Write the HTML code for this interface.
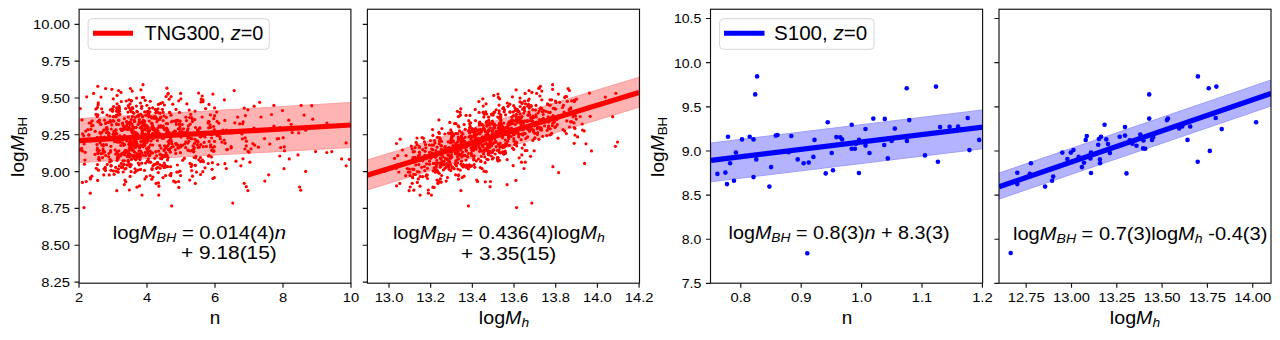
<!DOCTYPE html>
<html><head><meta charset="utf-8"><style>html,body{margin:0;padding:0;background:#fff;width:1280px;height:340px;overflow:hidden}</style></head>
<body><svg width="1280" height="340" viewBox="0 0 1280 340" style="display:block"><rect x="0" y="0" width="1280" height="340" fill="#fff"/><defs><clipPath id="c1"><rect x="79.1" y="9.24" width="271.80" height="273.96"/></clipPath><clipPath id="c2"><rect x="367.4" y="9.24" width="272.10" height="273.96"/></clipPath><clipPath id="c3"><rect x="710.5" y="9.24" width="272.10" height="273.96"/></clipPath><clipPath id="c4"><rect x="999.0" y="9.24" width="272.00" height="273.96"/></clipPath></defs><g clip-path="url(#c1)"><polygon points="79,118.6 351,102.5 351,147.5 79,162.6" fill="#ffb3b3" stroke="#ff9d9d" stroke-width="1"/></g><g clip-path="url(#c1)" fill="#ff0000"><circle cx="97.8" cy="153.4" r="1.6"/><circle cx="159.5" cy="119.5" r="1.6"/><circle cx="119.0" cy="106.4" r="1.6"/><circle cx="213.4" cy="151.2" r="1.6"/><circle cx="97.3" cy="150.2" r="1.6"/><circle cx="166.9" cy="88.2" r="1.6"/><circle cx="178.2" cy="172.0" r="1.6"/><circle cx="137.1" cy="138.6" r="1.6"/><circle cx="150.7" cy="162.2" r="1.6"/><circle cx="143.3" cy="146.6" r="1.6"/><circle cx="117.0" cy="115.0" r="1.6"/><circle cx="129.5" cy="141.9" r="1.6"/><circle cx="83.7" cy="135.8" r="1.6"/><circle cx="178.6" cy="181.5" r="1.6"/><circle cx="104.2" cy="137.0" r="1.6"/><circle cx="128.9" cy="128.4" r="1.6"/><circle cx="101.0" cy="97.1" r="1.6"/><circle cx="196.7" cy="133.6" r="1.6"/><circle cx="152.1" cy="123.6" r="1.6"/><circle cx="154.6" cy="116.3" r="1.6"/><circle cx="157.8" cy="163.7" r="1.6"/><circle cx="190.4" cy="151.0" r="1.6"/><circle cx="175.4" cy="131.4" r="1.6"/><circle cx="158.8" cy="195.1" r="1.6"/><circle cx="134.6" cy="152.2" r="1.6"/><circle cx="147.1" cy="127.9" r="1.6"/><circle cx="341.6" cy="158.9" r="1.6"/><circle cx="157.2" cy="133.3" r="1.6"/><circle cx="156.6" cy="110.8" r="1.6"/><circle cx="231.9" cy="133.0" r="1.6"/><circle cx="111.8" cy="124.9" r="1.6"/><circle cx="101.0" cy="124.6" r="1.6"/><circle cx="196.5" cy="172.1" r="1.6"/><circle cx="254.7" cy="145.2" r="1.6"/><circle cx="107.8" cy="132.2" r="1.6"/><circle cx="95.0" cy="154.4" r="1.6"/><circle cx="81.6" cy="148.4" r="1.6"/><circle cx="160.1" cy="168.2" r="1.6"/><circle cx="117.6" cy="110.2" r="1.6"/><circle cx="148.0" cy="153.8" r="1.6"/><circle cx="171.3" cy="147.5" r="1.6"/><circle cx="90.9" cy="122.9" r="1.6"/><circle cx="202.8" cy="171.7" r="1.6"/><circle cx="129.2" cy="127.4" r="1.6"/><circle cx="147.0" cy="134.7" r="1.6"/><circle cx="134.6" cy="121.2" r="1.6"/><circle cx="135.8" cy="159.8" r="1.6"/><circle cx="136.3" cy="142.8" r="1.6"/><circle cx="84.1" cy="144.0" r="1.6"/><circle cx="130.4" cy="88.5" r="1.6"/><circle cx="116.6" cy="123.8" r="1.6"/><circle cx="134.4" cy="121.5" r="1.6"/><circle cx="124.4" cy="160.8" r="1.6"/><circle cx="136.4" cy="106.1" r="1.6"/><circle cx="176.3" cy="143.7" r="1.6"/><circle cx="298.0" cy="154.9" r="1.6"/><circle cx="118.8" cy="120.5" r="1.6"/><circle cx="200.7" cy="136.9" r="1.6"/><circle cx="167.9" cy="94.1" r="1.6"/><circle cx="111.3" cy="129.0" r="1.6"/><circle cx="86.7" cy="96.8" r="1.6"/><circle cx="203.3" cy="146.7" r="1.6"/><circle cx="116.7" cy="124.5" r="1.6"/><circle cx="110.9" cy="170.3" r="1.6"/><circle cx="176.0" cy="109.4" r="1.6"/><circle cx="175.8" cy="153.4" r="1.6"/><circle cx="242.4" cy="138.8" r="1.6"/><circle cx="151.1" cy="140.8" r="1.6"/><circle cx="142.4" cy="97.5" r="1.6"/><circle cx="131.2" cy="164.8" r="1.6"/><circle cx="124.3" cy="184.6" r="1.6"/><circle cx="169.5" cy="149.2" r="1.6"/><circle cx="271.5" cy="114.5" r="1.6"/><circle cx="99.9" cy="132.7" r="1.6"/><circle cx="136.0" cy="155.8" r="1.6"/><circle cx="141.4" cy="127.8" r="1.6"/><circle cx="112.0" cy="108.8" r="1.6"/><circle cx="152.8" cy="128.2" r="1.6"/><circle cx="288.8" cy="120.2" r="1.6"/><circle cx="132.1" cy="132.3" r="1.6"/><circle cx="175.4" cy="182.2" r="1.6"/><circle cx="245.4" cy="115.6" r="1.6"/><circle cx="130.3" cy="143.4" r="1.6"/><circle cx="226.7" cy="149.6" r="1.6"/><circle cx="183.9" cy="132.6" r="1.6"/><circle cx="180.2" cy="129.4" r="1.6"/><circle cx="115.2" cy="149.9" r="1.6"/><circle cx="131.2" cy="129.8" r="1.6"/><circle cx="109.1" cy="133.6" r="1.6"/><circle cx="249.0" cy="152.2" r="1.6"/><circle cx="194.2" cy="157.5" r="1.6"/><circle cx="97.9" cy="121.6" r="1.6"/><circle cx="153.9" cy="164.6" r="1.6"/><circle cx="121.8" cy="130.0" r="1.6"/><circle cx="196.3" cy="141.2" r="1.6"/><circle cx="159.8" cy="127.0" r="1.6"/><circle cx="251.0" cy="148.8" r="1.6"/><circle cx="171.7" cy="205.9" r="1.6"/><circle cx="109.2" cy="174.9" r="1.6"/><circle cx="139.2" cy="164.8" r="1.6"/><circle cx="158.3" cy="172.6" r="1.6"/><circle cx="247.9" cy="109.8" r="1.6"/><circle cx="146.6" cy="148.5" r="1.6"/><circle cx="127.2" cy="156.5" r="1.6"/><circle cx="139.7" cy="123.2" r="1.6"/><circle cx="118.2" cy="154.3" r="1.6"/><circle cx="115.7" cy="154.2" r="1.6"/><circle cx="132.8" cy="133.4" r="1.6"/><circle cx="123.9" cy="164.6" r="1.6"/><circle cx="160.1" cy="154.4" r="1.6"/><circle cx="244.2" cy="108.1" r="1.6"/><circle cx="280.1" cy="127.7" r="1.6"/><circle cx="117.9" cy="155.0" r="1.6"/><circle cx="152.7" cy="107.9" r="1.6"/><circle cx="167.3" cy="155.7" r="1.6"/><circle cx="122.2" cy="129.0" r="1.6"/><circle cx="163.1" cy="120.6" r="1.6"/><circle cx="125.9" cy="168.4" r="1.6"/><circle cx="137.4" cy="111.8" r="1.6"/><circle cx="132.7" cy="112.1" r="1.6"/><circle cx="195.3" cy="183.4" r="1.6"/><circle cx="128.2" cy="128.1" r="1.6"/><circle cx="160.1" cy="113.1" r="1.6"/><circle cx="152.0" cy="168.6" r="1.6"/><circle cx="136.6" cy="98.1" r="1.6"/><circle cx="234.8" cy="122.8" r="1.6"/><circle cx="145.6" cy="163.1" r="1.6"/><circle cx="134.1" cy="146.0" r="1.6"/><circle cx="171.1" cy="173.3" r="1.6"/><circle cx="148.0" cy="139.2" r="1.6"/><circle cx="164.1" cy="115.8" r="1.6"/><circle cx="117.1" cy="95.4" r="1.6"/><circle cx="126.8" cy="141.0" r="1.6"/><circle cx="192.5" cy="176.2" r="1.6"/><circle cx="138.1" cy="124.5" r="1.6"/><circle cx="205.0" cy="136.9" r="1.6"/><circle cx="117.5" cy="136.9" r="1.6"/><circle cx="126.0" cy="151.0" r="1.6"/><circle cx="206.3" cy="146.4" r="1.6"/><circle cx="131.2" cy="111.7" r="1.6"/><circle cx="106.7" cy="127.3" r="1.6"/><circle cx="129.9" cy="143.3" r="1.6"/><circle cx="182.2" cy="124.5" r="1.6"/><circle cx="130.0" cy="122.0" r="1.6"/><circle cx="148.7" cy="147.2" r="1.6"/><circle cx="203.2" cy="135.6" r="1.6"/><circle cx="180.6" cy="175.5" r="1.6"/><circle cx="197.5" cy="129.9" r="1.6"/><circle cx="289.3" cy="158.9" r="1.6"/><circle cx="142.2" cy="115.8" r="1.6"/><circle cx="208.4" cy="132.8" r="1.6"/><circle cx="153.8" cy="127.8" r="1.6"/><circle cx="126.3" cy="129.0" r="1.6"/><circle cx="123.8" cy="145.3" r="1.6"/><circle cx="133.8" cy="113.3" r="1.6"/><circle cx="121.3" cy="101.6" r="1.6"/><circle cx="193.1" cy="145.9" r="1.6"/><circle cx="157.6" cy="167.3" r="1.6"/><circle cx="105.2" cy="167.3" r="1.6"/><circle cx="210.5" cy="146.7" r="1.6"/><circle cx="166.3" cy="123.6" r="1.6"/><circle cx="147.7" cy="111.3" r="1.6"/><circle cx="113.6" cy="106.5" r="1.6"/><circle cx="157.5" cy="162.4" r="1.6"/><circle cx="229.8" cy="131.9" r="1.6"/><circle cx="161.2" cy="135.8" r="1.6"/><circle cx="163.5" cy="128.1" r="1.6"/><circle cx="165.9" cy="152.8" r="1.6"/><circle cx="153.4" cy="128.6" r="1.6"/><circle cx="171.1" cy="96.6" r="1.6"/><circle cx="122.3" cy="153.4" r="1.6"/><circle cx="128.5" cy="154.0" r="1.6"/><circle cx="89.2" cy="123.0" r="1.6"/><circle cx="203.2" cy="161.6" r="1.6"/><circle cx="90.3" cy="193.2" r="1.6"/><circle cx="118.6" cy="124.5" r="1.6"/><circle cx="156.4" cy="118.3" r="1.6"/><circle cx="148.7" cy="133.8" r="1.6"/><circle cx="234.2" cy="90.6" r="1.6"/><circle cx="121.1" cy="154.0" r="1.6"/><circle cx="107.0" cy="128.7" r="1.6"/><circle cx="122.6" cy="123.2" r="1.6"/><circle cx="156.7" cy="130.4" r="1.6"/><circle cx="142.5" cy="131.7" r="1.6"/><circle cx="149.3" cy="108.4" r="1.6"/><circle cx="176.8" cy="172.1" r="1.6"/><circle cx="140.6" cy="169.4" r="1.6"/><circle cx="175.7" cy="143.5" r="1.6"/><circle cx="85.8" cy="131.1" r="1.6"/><circle cx="148.4" cy="134.0" r="1.6"/><circle cx="246.3" cy="145.9" r="1.6"/><circle cx="243.1" cy="121.9" r="1.6"/><circle cx="163.6" cy="138.3" r="1.6"/><circle cx="298.7" cy="132.9" r="1.6"/><circle cx="128.0" cy="129.6" r="1.6"/><circle cx="144.8" cy="145.3" r="1.6"/><circle cx="156.3" cy="168.5" r="1.6"/><circle cx="162.3" cy="165.7" r="1.6"/><circle cx="194.8" cy="119.6" r="1.6"/><circle cx="148.7" cy="131.4" r="1.6"/><circle cx="98.3" cy="102.9" r="1.6"/><circle cx="170.9" cy="140.1" r="1.6"/><circle cx="122.1" cy="130.2" r="1.6"/><circle cx="209.1" cy="155.6" r="1.6"/><circle cx="122.6" cy="143.1" r="1.6"/><circle cx="144.9" cy="178.9" r="1.6"/><circle cx="126.6" cy="121.6" r="1.6"/><circle cx="131.7" cy="143.3" r="1.6"/><circle cx="169.8" cy="112.6" r="1.6"/><circle cx="128.1" cy="160.7" r="1.6"/><circle cx="108.8" cy="153.5" r="1.6"/><circle cx="147.3" cy="161.2" r="1.6"/><circle cx="191.7" cy="170.6" r="1.6"/><circle cx="98.1" cy="105.1" r="1.6"/><circle cx="138.6" cy="146.0" r="1.6"/><circle cx="112.9" cy="120.7" r="1.6"/><circle cx="80.3" cy="108.5" r="1.6"/><circle cx="144.0" cy="126.1" r="1.6"/><circle cx="138.2" cy="170.0" r="1.6"/><circle cx="214.6" cy="107.9" r="1.6"/><circle cx="93.6" cy="93.4" r="1.6"/><circle cx="165.1" cy="165.4" r="1.6"/><circle cx="191.9" cy="138.7" r="1.6"/><circle cx="144.6" cy="111.9" r="1.6"/><circle cx="151.7" cy="123.2" r="1.6"/><circle cx="125.0" cy="180.1" r="1.6"/><circle cx="117.3" cy="142.2" r="1.6"/><circle cx="99.5" cy="120.1" r="1.6"/><circle cx="226.3" cy="168.5" r="1.6"/><circle cx="84.0" cy="207.6" r="1.6"/><circle cx="129.4" cy="156.9" r="1.6"/><circle cx="168.0" cy="157.8" r="1.6"/><circle cx="154.2" cy="118.3" r="1.6"/><circle cx="155.3" cy="116.8" r="1.6"/><circle cx="141.7" cy="122.4" r="1.6"/><circle cx="129.5" cy="163.8" r="1.6"/><circle cx="191.4" cy="133.7" r="1.6"/><circle cx="110.6" cy="137.6" r="1.6"/><circle cx="132.2" cy="107.7" r="1.6"/><circle cx="192.2" cy="119.1" r="1.6"/><circle cx="132.9" cy="155.9" r="1.6"/><circle cx="278.6" cy="138.5" r="1.6"/><circle cx="123.1" cy="139.8" r="1.6"/><circle cx="149.3" cy="130.6" r="1.6"/><circle cx="161.5" cy="155.2" r="1.6"/><circle cx="155.9" cy="151.6" r="1.6"/><circle cx="189.3" cy="137.3" r="1.6"/><circle cx="97.4" cy="148.1" r="1.6"/><circle cx="162.4" cy="109.3" r="1.6"/><circle cx="189.7" cy="180.1" r="1.6"/><circle cx="110.7" cy="150.7" r="1.6"/><circle cx="148.3" cy="148.2" r="1.6"/><circle cx="158.6" cy="151.1" r="1.6"/><circle cx="136.4" cy="136.2" r="1.6"/><circle cx="156.1" cy="132.2" r="1.6"/><circle cx="174.6" cy="131.0" r="1.6"/><circle cx="178.0" cy="147.7" r="1.6"/><circle cx="246.4" cy="141.2" r="1.6"/><circle cx="166.8" cy="128.4" r="1.6"/><circle cx="346.2" cy="165.8" r="1.6"/><circle cx="166.0" cy="147.8" r="1.6"/><circle cx="130.2" cy="124.5" r="1.6"/><circle cx="118.1" cy="158.4" r="1.6"/><circle cx="100.8" cy="133.5" r="1.6"/><circle cx="143.1" cy="140.0" r="1.6"/><circle cx="105.5" cy="170.5" r="1.6"/><circle cx="170.6" cy="166.7" r="1.6"/><circle cx="177.4" cy="165.0" r="1.6"/><circle cx="179.9" cy="127.0" r="1.6"/><circle cx="140.9" cy="89.8" r="1.6"/><circle cx="158.1" cy="136.9" r="1.6"/><circle cx="127.6" cy="155.4" r="1.6"/><circle cx="225.0" cy="143.2" r="1.6"/><circle cx="95.9" cy="109.1" r="1.6"/><circle cx="133.0" cy="128.6" r="1.6"/><circle cx="147.8" cy="111.8" r="1.6"/><circle cx="127.0" cy="164.9" r="1.6"/><circle cx="201.0" cy="101.9" r="1.6"/><circle cx="152.7" cy="133.3" r="1.6"/><circle cx="138.7" cy="116.2" r="1.6"/><circle cx="97.9" cy="114.9" r="1.6"/><circle cx="137.2" cy="137.0" r="1.6"/><circle cx="153.0" cy="177.0" r="1.6"/><circle cx="131.5" cy="145.8" r="1.6"/><circle cx="106.3" cy="132.6" r="1.6"/><circle cx="154.7" cy="158.3" r="1.6"/><circle cx="132.7" cy="126.3" r="1.6"/><circle cx="211.4" cy="156.9" r="1.6"/><circle cx="171.0" cy="115.2" r="1.6"/><circle cx="164.4" cy="105.0" r="1.6"/><circle cx="244.9" cy="149.0" r="1.6"/><circle cx="188.0" cy="150.0" r="1.6"/><circle cx="131.6" cy="101.0" r="1.6"/><circle cx="151.9" cy="127.2" r="1.6"/><circle cx="117.3" cy="110.7" r="1.6"/><circle cx="113.7" cy="116.7" r="1.6"/><circle cx="118.6" cy="90.5" r="1.6"/><circle cx="98.9" cy="150.5" r="1.6"/><circle cx="116.6" cy="107.9" r="1.6"/><circle cx="124.5" cy="144.4" r="1.6"/><circle cx="166.7" cy="132.1" r="1.6"/><circle cx="113.4" cy="170.9" r="1.6"/><circle cx="99.0" cy="150.6" r="1.6"/><circle cx="135.0" cy="132.4" r="1.6"/><circle cx="115.8" cy="130.2" r="1.6"/><circle cx="174.2" cy="133.8" r="1.6"/><circle cx="128.0" cy="160.9" r="1.6"/><circle cx="161.1" cy="117.1" r="1.6"/><circle cx="121.0" cy="155.4" r="1.6"/><circle cx="160.4" cy="117.7" r="1.6"/><circle cx="211.4" cy="132.3" r="1.6"/><circle cx="140.8" cy="151.3" r="1.6"/><circle cx="160.6" cy="158.4" r="1.6"/><circle cx="153.4" cy="129.8" r="1.6"/><circle cx="108.7" cy="134.9" r="1.6"/><circle cx="87.9" cy="129.7" r="1.6"/><circle cx="210.6" cy="134.5" r="1.6"/><circle cx="142.6" cy="145.0" r="1.6"/><circle cx="165.1" cy="167.2" r="1.6"/><circle cx="144.2" cy="120.8" r="1.6"/><circle cx="198.6" cy="93.1" r="1.6"/><circle cx="120.3" cy="140.8" r="1.6"/><circle cx="157.0" cy="134.2" r="1.6"/><circle cx="161.0" cy="148.1" r="1.6"/><circle cx="182.0" cy="135.0" r="1.6"/><circle cx="90.4" cy="178.9" r="1.6"/><circle cx="135.9" cy="143.7" r="1.6"/><circle cx="147.7" cy="130.9" r="1.6"/><circle cx="152.6" cy="152.9" r="1.6"/><circle cx="123.9" cy="164.6" r="1.6"/><circle cx="148.4" cy="131.6" r="1.6"/><circle cx="178.4" cy="120.6" r="1.6"/><circle cx="181.7" cy="133.9" r="1.6"/><circle cx="117.1" cy="160.4" r="1.6"/><circle cx="152.6" cy="125.6" r="1.6"/><circle cx="131.1" cy="130.6" r="1.6"/><circle cx="145.7" cy="139.7" r="1.6"/><circle cx="146.4" cy="176.7" r="1.6"/><circle cx="279.8" cy="156.0" r="1.6"/><circle cx="82.4" cy="182.4" r="1.6"/><circle cx="277.3" cy="138.8" r="1.6"/><circle cx="101.7" cy="108.8" r="1.6"/><circle cx="100.9" cy="136.9" r="1.6"/><circle cx="124.7" cy="136.0" r="1.6"/><circle cx="131.5" cy="159.4" r="1.6"/><circle cx="198.1" cy="142.1" r="1.6"/><circle cx="213.8" cy="118.6" r="1.6"/><circle cx="261.0" cy="117.0" r="1.6"/><circle cx="143.5" cy="155.3" r="1.6"/><circle cx="86.2" cy="181.5" r="1.6"/><circle cx="165.6" cy="175.6" r="1.6"/><circle cx="231.1" cy="146.6" r="1.6"/><circle cx="98.9" cy="157.4" r="1.6"/><circle cx="199.4" cy="147.0" r="1.6"/><circle cx="79.7" cy="150.2" r="1.6"/><circle cx="187.8" cy="143.1" r="1.6"/><circle cx="151.4" cy="116.9" r="1.6"/><circle cx="226.4" cy="130.2" r="1.6"/><circle cx="214.3" cy="177.6" r="1.6"/><circle cx="110.1" cy="159.6" r="1.6"/><circle cx="159.0" cy="125.8" r="1.6"/><circle cx="117.1" cy="103.8" r="1.6"/><circle cx="159.7" cy="134.9" r="1.6"/><circle cx="107.9" cy="122.4" r="1.6"/><circle cx="139.0" cy="151.1" r="1.6"/><circle cx="134.1" cy="139.4" r="1.6"/><circle cx="82.5" cy="150.9" r="1.6"/><circle cx="154.1" cy="134.1" r="1.6"/><circle cx="224.4" cy="99.8" r="1.6"/><circle cx="111.0" cy="165.9" r="1.6"/><circle cx="264.8" cy="181.1" r="1.6"/><circle cx="158.5" cy="182.9" r="1.6"/><circle cx="128.3" cy="117.0" r="1.6"/><circle cx="304.1" cy="115.1" r="1.6"/><circle cx="149.7" cy="155.6" r="1.6"/><circle cx="152.4" cy="128.5" r="1.6"/><circle cx="145.7" cy="115.4" r="1.6"/><circle cx="198.8" cy="159.8" r="1.6"/><circle cx="116.8" cy="152.0" r="1.6"/><circle cx="123.5" cy="129.5" r="1.6"/><circle cx="144.5" cy="141.9" r="1.6"/><circle cx="109.9" cy="116.1" r="1.6"/><circle cx="210.4" cy="127.4" r="1.6"/><circle cx="158.9" cy="186.2" r="1.6"/><circle cx="170.4" cy="152.2" r="1.6"/><circle cx="217.1" cy="121.4" r="1.6"/><circle cx="157.8" cy="128.1" r="1.6"/><circle cx="131.2" cy="100.6" r="1.6"/><circle cx="160.6" cy="103.4" r="1.6"/><circle cx="149.2" cy="121.0" r="1.6"/><circle cx="130.4" cy="122.6" r="1.6"/><circle cx="130.0" cy="103.9" r="1.6"/><circle cx="132.8" cy="108.4" r="1.6"/><circle cx="190.9" cy="138.4" r="1.6"/><circle cx="114.0" cy="132.4" r="1.6"/><circle cx="349.3" cy="159.3" r="1.6"/><circle cx="113.3" cy="136.8" r="1.6"/><circle cx="141.7" cy="153.1" r="1.6"/><circle cx="110.3" cy="122.2" r="1.6"/><circle cx="135.0" cy="144.3" r="1.6"/><circle cx="130.1" cy="166.7" r="1.6"/><circle cx="164.6" cy="129.6" r="1.6"/><circle cx="217.1" cy="135.4" r="1.6"/><circle cx="125.8" cy="181.8" r="1.6"/><circle cx="190.0" cy="163.4" r="1.6"/><circle cx="145.2" cy="100.3" r="1.6"/><circle cx="140.8" cy="141.5" r="1.6"/><circle cx="123.1" cy="125.6" r="1.6"/><circle cx="221.9" cy="142.1" r="1.6"/><circle cx="133.8" cy="142.2" r="1.6"/><circle cx="180.6" cy="146.9" r="1.6"/><circle cx="95.2" cy="131.3" r="1.6"/><circle cx="171.4" cy="121.8" r="1.6"/><circle cx="126.5" cy="150.5" r="1.6"/><circle cx="159.2" cy="133.9" r="1.6"/><circle cx="168.7" cy="132.6" r="1.6"/><circle cx="116.4" cy="111.1" r="1.6"/><circle cx="159.7" cy="145.6" r="1.6"/><circle cx="214.4" cy="146.7" r="1.6"/><circle cx="129.7" cy="145.9" r="1.6"/><circle cx="153.1" cy="138.7" r="1.6"/><circle cx="114.1" cy="131.3" r="1.6"/><circle cx="118.4" cy="169.1" r="1.6"/><circle cx="148.2" cy="113.9" r="1.6"/><circle cx="163.8" cy="155.6" r="1.6"/><circle cx="169.2" cy="99.2" r="1.6"/><circle cx="212.4" cy="162.7" r="1.6"/><circle cx="168.2" cy="141.5" r="1.6"/><circle cx="146.3" cy="125.8" r="1.6"/><circle cx="155.3" cy="134.2" r="1.6"/><circle cx="178.2" cy="128.9" r="1.6"/><circle cx="208.2" cy="163.5" r="1.6"/><circle cx="177.0" cy="120.4" r="1.6"/><circle cx="148.2" cy="127.4" r="1.6"/><circle cx="114.5" cy="135.1" r="1.6"/><circle cx="204.1" cy="142.4" r="1.6"/><circle cx="144.9" cy="124.7" r="1.6"/><circle cx="145.5" cy="143.1" r="1.6"/><circle cx="210.1" cy="124.8" r="1.6"/><circle cx="123.2" cy="172.0" r="1.6"/><circle cx="216.7" cy="112.1" r="1.6"/><circle cx="128.8" cy="151.4" r="1.6"/><circle cx="107.2" cy="164.4" r="1.6"/><circle cx="157.5" cy="120.0" r="1.6"/><circle cx="195.3" cy="165.3" r="1.6"/><circle cx="134.0" cy="138.1" r="1.6"/><circle cx="208.5" cy="121.5" r="1.6"/><circle cx="141.6" cy="128.6" r="1.6"/><circle cx="193.9" cy="149.1" r="1.6"/><circle cx="97.6" cy="180.4" r="1.6"/><circle cx="142.4" cy="137.5" r="1.6"/><circle cx="111.3" cy="160.9" r="1.6"/><circle cx="191.7" cy="117.5" r="1.6"/><circle cx="149.9" cy="111.9" r="1.6"/><circle cx="179.6" cy="123.6" r="1.6"/><circle cx="114.7" cy="141.7" r="1.6"/><circle cx="184.9" cy="132.5" r="1.6"/><circle cx="346.1" cy="142.9" r="1.6"/><circle cx="106.0" cy="129.0" r="1.6"/><circle cx="135.7" cy="145.4" r="1.6"/><circle cx="211.7" cy="150.3" r="1.6"/><circle cx="209.0" cy="104.4" r="1.6"/><circle cx="200.0" cy="136.3" r="1.6"/><circle cx="116.9" cy="133.6" r="1.6"/><circle cx="160.8" cy="125.7" r="1.6"/><circle cx="109.8" cy="137.4" r="1.6"/><circle cx="131.3" cy="119.5" r="1.6"/><circle cx="155.9" cy="117.9" r="1.6"/><circle cx="125.1" cy="129.0" r="1.6"/><circle cx="135.5" cy="127.5" r="1.6"/><circle cx="131.1" cy="171.6" r="1.6"/><circle cx="103.1" cy="150.7" r="1.6"/><circle cx="111.9" cy="89.3" r="1.6"/><circle cx="193.4" cy="133.7" r="1.6"/><circle cx="82.6" cy="133.9" r="1.6"/><circle cx="311.7" cy="105.7" r="1.6"/><circle cx="237.7" cy="117.1" r="1.6"/><circle cx="326.9" cy="123.1" r="1.6"/><circle cx="185.6" cy="147.6" r="1.6"/><circle cx="82.0" cy="119.9" r="1.6"/><circle cx="102.9" cy="153.2" r="1.6"/><circle cx="136.1" cy="141.3" r="1.6"/><circle cx="117.9" cy="139.1" r="1.6"/><circle cx="110.9" cy="146.3" r="1.6"/><circle cx="240.9" cy="165.8" r="1.6"/><circle cx="231.8" cy="130.3" r="1.6"/><circle cx="197.4" cy="140.9" r="1.6"/><circle cx="124.5" cy="135.6" r="1.6"/><circle cx="214.2" cy="133.6" r="1.6"/><circle cx="195.0" cy="139.3" r="1.6"/><circle cx="140.8" cy="144.9" r="1.6"/><circle cx="124.8" cy="169.1" r="1.6"/><circle cx="126.2" cy="101.0" r="1.6"/><circle cx="142.9" cy="122.8" r="1.6"/><circle cx="212.9" cy="94.1" r="1.6"/><circle cx="101.8" cy="145.0" r="1.6"/><circle cx="136.2" cy="127.3" r="1.6"/><circle cx="134.2" cy="155.5" r="1.6"/><circle cx="246.3" cy="186.7" r="1.6"/><circle cx="128.4" cy="161.4" r="1.6"/><circle cx="171.5" cy="141.7" r="1.6"/><circle cx="136.8" cy="111.4" r="1.6"/><circle cx="166.3" cy="117.4" r="1.6"/><circle cx="197.6" cy="132.9" r="1.6"/><circle cx="192.4" cy="121.4" r="1.6"/><circle cx="214.4" cy="129.5" r="1.6"/><circle cx="140.7" cy="114.0" r="1.6"/><circle cx="138.7" cy="154.0" r="1.6"/><circle cx="108.7" cy="156.8" r="1.6"/><circle cx="128.1" cy="165.0" r="1.6"/><circle cx="110.4" cy="109.8" r="1.6"/><circle cx="186.9" cy="103.9" r="1.6"/><circle cx="104.6" cy="151.9" r="1.6"/><circle cx="129.1" cy="144.5" r="1.6"/><circle cx="189.6" cy="117.5" r="1.6"/><circle cx="194.6" cy="143.3" r="1.6"/><circle cx="300.8" cy="190.2" r="1.6"/><circle cx="144.2" cy="125.3" r="1.6"/><circle cx="97.2" cy="137.4" r="1.6"/><circle cx="181.0" cy="137.1" r="1.6"/><circle cx="131.5" cy="129.7" r="1.6"/><circle cx="188.4" cy="125.8" r="1.6"/><circle cx="85.2" cy="152.3" r="1.6"/><circle cx="112.3" cy="138.1" r="1.6"/><circle cx="180.9" cy="145.2" r="1.6"/><circle cx="166.3" cy="146.9" r="1.6"/><circle cx="161.2" cy="158.1" r="1.6"/><circle cx="155.7" cy="112.6" r="1.6"/><circle cx="178.3" cy="148.2" r="1.6"/><circle cx="119.3" cy="165.8" r="1.6"/><circle cx="109.1" cy="136.1" r="1.6"/><circle cx="130.1" cy="176.4" r="1.6"/><circle cx="155.0" cy="130.6" r="1.6"/><circle cx="118.7" cy="120.2" r="1.6"/><circle cx="117.3" cy="157.7" r="1.6"/><circle cx="152.1" cy="169.6" r="1.6"/><circle cx="137.1" cy="157.9" r="1.6"/><circle cx="138.4" cy="156.4" r="1.6"/><circle cx="232.8" cy="203.1" r="1.6"/><circle cx="274.0" cy="126.2" r="1.6"/><circle cx="110.1" cy="120.7" r="1.6"/><circle cx="163.3" cy="126.1" r="1.6"/><circle cx="124.4" cy="137.8" r="1.6"/><circle cx="134.4" cy="120.4" r="1.6"/><circle cx="88.8" cy="135.0" r="1.6"/><circle cx="103.5" cy="144.5" r="1.6"/><circle cx="100.0" cy="140.8" r="1.6"/><circle cx="101.7" cy="139.6" r="1.6"/><circle cx="167.9" cy="145.5" r="1.6"/><circle cx="105.2" cy="168.4" r="1.6"/><circle cx="217.2" cy="135.0" r="1.6"/><circle cx="190.2" cy="124.2" r="1.6"/><circle cx="137.0" cy="187.2" r="1.6"/><circle cx="164.1" cy="167.5" r="1.6"/><circle cx="258.4" cy="147.2" r="1.6"/><circle cx="112.5" cy="111.3" r="1.6"/><circle cx="156.9" cy="121.7" r="1.6"/><circle cx="148.1" cy="152.7" r="1.6"/><circle cx="139.8" cy="146.8" r="1.6"/><circle cx="142.0" cy="195.1" r="1.6"/><circle cx="98.3" cy="138.3" r="1.6"/><circle cx="170.8" cy="175.7" r="1.6"/><circle cx="116.6" cy="115.0" r="1.6"/><circle cx="139.2" cy="156.8" r="1.6"/><circle cx="243.0" cy="158.8" r="1.6"/><circle cx="134.1" cy="127.7" r="1.6"/><circle cx="132.4" cy="150.3" r="1.6"/><circle cx="219.7" cy="136.5" r="1.6"/><circle cx="157.4" cy="140.6" r="1.6"/><circle cx="148.2" cy="160.9" r="1.6"/><circle cx="121.9" cy="130.5" r="1.6"/><circle cx="177.8" cy="145.1" r="1.6"/><circle cx="143.0" cy="84.7" r="1.6"/><circle cx="158.4" cy="104.4" r="1.6"/><circle cx="130.2" cy="149.4" r="1.6"/><circle cx="103.3" cy="146.1" r="1.6"/><circle cx="202.1" cy="117.0" r="1.6"/><circle cx="172.8" cy="104.2" r="1.6"/><circle cx="254.2" cy="106.2" r="1.6"/><circle cx="132.3" cy="145.6" r="1.6"/><circle cx="146.2" cy="112.1" r="1.6"/><circle cx="128.0" cy="112.1" r="1.6"/><circle cx="131.7" cy="147.9" r="1.6"/><circle cx="144.1" cy="143.6" r="1.6"/><circle cx="114.1" cy="174.3" r="1.6"/><circle cx="118.8" cy="150.8" r="1.6"/><circle cx="146.9" cy="125.9" r="1.6"/><circle cx="214.0" cy="150.9" r="1.6"/><circle cx="154.9" cy="129.7" r="1.6"/><circle cx="192.9" cy="134.1" r="1.6"/><circle cx="102.5" cy="157.7" r="1.6"/><circle cx="127.4" cy="124.2" r="1.6"/><circle cx="259.7" cy="102.3" r="1.6"/><circle cx="99.5" cy="159.9" r="1.6"/><circle cx="98.5" cy="170.2" r="1.6"/><circle cx="157.7" cy="112.4" r="1.6"/><circle cx="139.5" cy="185.9" r="1.6"/><circle cx="128.3" cy="105.7" r="1.6"/><circle cx="166.5" cy="128.1" r="1.6"/><circle cx="177.7" cy="135.4" r="1.6"/><circle cx="129.0" cy="99.8" r="1.6"/><circle cx="159.7" cy="133.7" r="1.6"/><circle cx="149.0" cy="155.4" r="1.6"/><circle cx="200.6" cy="174.5" r="1.6"/><circle cx="97.5" cy="164.6" r="1.6"/><circle cx="118.7" cy="157.3" r="1.6"/><circle cx="159.9" cy="164.8" r="1.6"/><circle cx="98.5" cy="151.5" r="1.6"/><circle cx="205.6" cy="108.6" r="1.6"/><circle cx="284.5" cy="150.8" r="1.6"/><circle cx="141.5" cy="108.3" r="1.6"/><circle cx="182.7" cy="160.3" r="1.6"/><circle cx="126.5" cy="126.1" r="1.6"/><circle cx="269.8" cy="144.0" r="1.6"/><circle cx="116.2" cy="171.2" r="1.6"/><circle cx="90.9" cy="129.3" r="1.6"/><circle cx="101.9" cy="132.5" r="1.6"/><circle cx="155.9" cy="152.0" r="1.6"/><circle cx="105.5" cy="123.4" r="1.6"/><circle cx="292.2" cy="132.6" r="1.6"/><circle cx="171.1" cy="135.9" r="1.6"/><circle cx="160.4" cy="154.4" r="1.6"/><circle cx="178.7" cy="100.8" r="1.6"/><circle cx="144.4" cy="136.9" r="1.6"/><circle cx="234.3" cy="131.4" r="1.6"/><circle cx="178.8" cy="187.4" r="1.6"/><circle cx="132.4" cy="116.6" r="1.6"/><circle cx="146.7" cy="139.1" r="1.6"/><circle cx="113.8" cy="121.2" r="1.6"/><circle cx="145.3" cy="152.4" r="1.6"/><circle cx="143.5" cy="122.1" r="1.6"/><circle cx="102.6" cy="112.3" r="1.6"/><circle cx="241.9" cy="134.0" r="1.6"/><circle cx="129.3" cy="148.3" r="1.6"/><circle cx="149.8" cy="154.9" r="1.6"/><circle cx="107.0" cy="115.0" r="1.6"/><circle cx="147.1" cy="142.1" r="1.6"/><circle cx="175.3" cy="149.9" r="1.6"/><circle cx="97.0" cy="144.7" r="1.6"/><circle cx="305.7" cy="130.2" r="1.6"/><circle cx="113.5" cy="116.6" r="1.6"/><circle cx="119.9" cy="114.3" r="1.6"/><circle cx="195.7" cy="157.8" r="1.6"/><circle cx="135.2" cy="117.4" r="1.6"/><circle cx="214.5" cy="141.4" r="1.6"/><circle cx="121.0" cy="92.4" r="1.6"/><circle cx="133.1" cy="145.5" r="1.6"/><circle cx="179.9" cy="171.2" r="1.6"/><circle cx="200.6" cy="161.6" r="1.6"/><circle cx="208.1" cy="122.9" r="1.6"/><circle cx="146.0" cy="135.1" r="1.6"/><circle cx="163.0" cy="177.6" r="1.6"/><circle cx="139.4" cy="119.7" r="1.6"/><circle cx="167.6" cy="123.7" r="1.6"/><circle cx="121.5" cy="167.6" r="1.6"/><circle cx="203.0" cy="99.8" r="1.6"/><circle cx="169.3" cy="150.3" r="1.6"/><circle cx="118.4" cy="112.3" r="1.6"/><circle cx="133.4" cy="149.8" r="1.6"/><circle cx="130.7" cy="164.9" r="1.6"/><circle cx="240.5" cy="130.8" r="1.6"/><circle cx="147.2" cy="139.7" r="1.6"/><circle cx="173.7" cy="181.2" r="1.6"/><circle cx="227.5" cy="149.6" r="1.6"/><circle cx="141.1" cy="146.1" r="1.6"/><circle cx="268.7" cy="174.8" r="1.6"/><circle cx="138.1" cy="156.3" r="1.6"/><circle cx="92.2" cy="120.8" r="1.6"/><circle cx="105.7" cy="155.5" r="1.6"/><circle cx="179.3" cy="124.4" r="1.6"/><circle cx="139.9" cy="159.6" r="1.6"/><circle cx="212.9" cy="178.5" r="1.6"/><circle cx="161.7" cy="158.8" r="1.6"/><circle cx="176.0" cy="122.1" r="1.6"/><circle cx="135.6" cy="135.8" r="1.6"/><circle cx="155.3" cy="109.4" r="1.6"/><circle cx="165.3" cy="166.5" r="1.6"/><circle cx="142.3" cy="125.6" r="1.6"/><circle cx="158.0" cy="108.8" r="1.6"/><circle cx="211.9" cy="134.6" r="1.6"/><circle cx="217.9" cy="164.5" r="1.6"/><circle cx="132.2" cy="156.1" r="1.6"/><circle cx="107.0" cy="129.3" r="1.6"/><circle cx="210.4" cy="114.8" r="1.6"/><circle cx="148.3" cy="158.8" r="1.6"/><circle cx="284.0" cy="168.7" r="1.6"/><circle cx="186.5" cy="120.6" r="1.6"/><circle cx="135.8" cy="147.3" r="1.6"/><circle cx="198.9" cy="131.7" r="1.6"/><circle cx="148.7" cy="116.8" r="1.6"/><circle cx="167.5" cy="159.9" r="1.6"/><circle cx="198.2" cy="147.4" r="1.6"/><circle cx="149.5" cy="130.4" r="1.6"/><circle cx="249.9" cy="162.2" r="1.6"/><circle cx="136.3" cy="144.7" r="1.6"/><circle cx="142.7" cy="134.2" r="1.6"/><circle cx="175.2" cy="120.9" r="1.6"/><circle cx="140.3" cy="127.7" r="1.6"/><circle cx="172.0" cy="144.0" r="1.6"/><circle cx="150.2" cy="151.1" r="1.6"/><circle cx="181.8" cy="131.6" r="1.6"/><circle cx="201.2" cy="99.1" r="1.6"/><circle cx="163.1" cy="112.2" r="1.6"/><circle cx="242.7" cy="123.8" r="1.6"/><circle cx="190.7" cy="114.3" r="1.6"/><circle cx="208.4" cy="156.1" r="1.6"/><circle cx="91.7" cy="125.9" r="1.6"/><circle cx="93.0" cy="125.4" r="1.6"/><circle cx="168.1" cy="149.3" r="1.6"/><circle cx="143.6" cy="97.3" r="1.6"/><circle cx="209.0" cy="121.6" r="1.6"/><circle cx="134.7" cy="172.5" r="1.6"/><circle cx="185.9" cy="117.2" r="1.6"/><circle cx="115.9" cy="129.9" r="1.6"/><circle cx="173.3" cy="146.6" r="1.6"/><circle cx="247.9" cy="190.6" r="1.6"/><circle cx="211.4" cy="133.7" r="1.6"/><circle cx="132.8" cy="130.2" r="1.6"/><circle cx="149.0" cy="115.6" r="1.6"/><circle cx="151.8" cy="118.1" r="1.6"/><circle cx="132.8" cy="128.6" r="1.6"/><circle cx="149.4" cy="162.2" r="1.6"/><circle cx="273.9" cy="105.4" r="1.6"/><circle cx="203.3" cy="161.7" r="1.6"/><circle cx="139.6" cy="148.1" r="1.6"/><circle cx="169.4" cy="140.6" r="1.6"/><circle cx="282.5" cy="110.6" r="1.6"/><circle cx="140.1" cy="136.4" r="1.6"/><circle cx="200.4" cy="157.6" r="1.6"/><circle cx="194.2" cy="147.6" r="1.6"/><circle cx="224.9" cy="163.7" r="1.6"/><circle cx="103.7" cy="130.2" r="1.6"/><circle cx="224.8" cy="120.4" r="1.6"/><circle cx="299.6" cy="187.0" r="1.6"/><circle cx="118.2" cy="172.2" r="1.6"/><circle cx="169.5" cy="112.4" r="1.6"/><circle cx="98.7" cy="159.3" r="1.6"/><circle cx="180.3" cy="121.0" r="1.6"/><circle cx="167.5" cy="130.0" r="1.6"/><circle cx="185.8" cy="141.8" r="1.6"/><circle cx="205.0" cy="167.8" r="1.6"/><circle cx="132.0" cy="124.0" r="1.6"/><circle cx="99.9" cy="122.9" r="1.6"/><circle cx="187.9" cy="138.2" r="1.6"/><circle cx="88.9" cy="134.9" r="1.6"/><circle cx="122.1" cy="166.8" r="1.6"/><circle cx="119.3" cy="109.2" r="1.6"/><circle cx="192.5" cy="150.0" r="1.6"/><circle cx="159.7" cy="113.0" r="1.6"/><circle cx="202.5" cy="160.2" r="1.6"/><circle cx="168.1" cy="134.9" r="1.6"/><circle cx="208.6" cy="127.8" r="1.6"/><circle cx="188.0" cy="128.8" r="1.6"/><circle cx="212.1" cy="169.3" r="1.6"/><circle cx="130.2" cy="154.3" r="1.6"/><circle cx="139.2" cy="146.8" r="1.6"/><circle cx="169.9" cy="175.0" r="1.6"/><circle cx="150.6" cy="144.9" r="1.6"/><circle cx="195.8" cy="156.4" r="1.6"/><circle cx="184.7" cy="144.0" r="1.6"/><circle cx="143.4" cy="140.3" r="1.6"/><circle cx="110.5" cy="152.0" r="1.6"/><circle cx="197.4" cy="144.8" r="1.6"/><circle cx="166.0" cy="154.7" r="1.6"/><circle cx="132.7" cy="142.0" r="1.6"/><circle cx="97.4" cy="107.6" r="1.6"/><circle cx="84.4" cy="164.2" r="1.6"/><circle cx="128.4" cy="161.5" r="1.6"/><circle cx="140.9" cy="122.4" r="1.6"/><circle cx="115.6" cy="133.4" r="1.6"/><circle cx="97.8" cy="86.3" r="1.6"/><circle cx="125.7" cy="108.6" r="1.6"/><circle cx="140.6" cy="156.9" r="1.6"/><circle cx="96.0" cy="114.4" r="1.6"/><circle cx="123.0" cy="160.9" r="1.6"/><circle cx="150.2" cy="175.5" r="1.6"/><circle cx="203.0" cy="101.6" r="1.6"/><circle cx="199.7" cy="128.2" r="1.6"/><circle cx="146.9" cy="105.3" r="1.6"/><circle cx="120.8" cy="145.5" r="1.6"/><circle cx="140.5" cy="103.0" r="1.6"/><circle cx="167.5" cy="130.8" r="1.6"/><circle cx="136.4" cy="133.2" r="1.6"/><circle cx="158.0" cy="131.1" r="1.6"/><circle cx="193.7" cy="151.8" r="1.6"/><circle cx="179.4" cy="133.4" r="1.6"/><circle cx="202.2" cy="96.0" r="1.6"/><circle cx="100.1" cy="142.8" r="1.6"/><circle cx="136.9" cy="153.7" r="1.6"/><circle cx="101.2" cy="153.7" r="1.6"/><circle cx="160.9" cy="127.0" r="1.6"/><circle cx="170.3" cy="137.5" r="1.6"/><circle cx="119.3" cy="107.8" r="1.6"/><circle cx="104.5" cy="120.2" r="1.6"/><circle cx="156.6" cy="155.8" r="1.6"/><circle cx="119.0" cy="114.8" r="1.6"/><circle cx="113.1" cy="134.2" r="1.6"/><circle cx="142.5" cy="117.0" r="1.6"/><circle cx="252.9" cy="143.6" r="1.6"/><circle cx="144.5" cy="124.3" r="1.6"/><circle cx="168.2" cy="93.3" r="1.6"/><circle cx="134.3" cy="158.0" r="1.6"/><circle cx="139.1" cy="122.2" r="1.6"/><circle cx="128.4" cy="122.9" r="1.6"/><circle cx="119.5" cy="111.3" r="1.6"/><circle cx="189.2" cy="110.1" r="1.6"/><circle cx="137.1" cy="143.8" r="1.6"/><circle cx="131.9" cy="142.1" r="1.6"/><circle cx="326.8" cy="152.5" r="1.6"/><circle cx="213.6" cy="126.5" r="1.6"/><circle cx="129.0" cy="107.5" r="1.6"/><circle cx="151.3" cy="152.8" r="1.6"/><circle cx="162.6" cy="102.5" r="1.6"/><circle cx="113.3" cy="98.8" r="1.6"/><circle cx="142.2" cy="130.3" r="1.6"/><circle cx="130.4" cy="109.7" r="1.6"/><circle cx="188.2" cy="150.3" r="1.6"/><circle cx="103.0" cy="149.0" r="1.6"/><circle cx="331.8" cy="151.6" r="1.6"/><circle cx="129.0" cy="144.2" r="1.6"/><circle cx="136.0" cy="171.2" r="1.6"/><circle cx="96.3" cy="168.3" r="1.6"/><circle cx="218.8" cy="123.2" r="1.6"/><circle cx="210.7" cy="144.8" r="1.6"/><circle cx="98.2" cy="153.0" r="1.6"/><circle cx="148.0" cy="140.4" r="1.6"/><circle cx="133.3" cy="136.1" r="1.6"/><circle cx="180.6" cy="146.5" r="1.6"/><circle cx="137.6" cy="134.2" r="1.6"/><circle cx="254.0" cy="128.0" r="1.6"/><circle cx="124.2" cy="127.1" r="1.6"/><circle cx="187.4" cy="130.7" r="1.6"/><circle cx="122.4" cy="166.9" r="1.6"/><circle cx="180.9" cy="98.8" r="1.6"/><circle cx="141.9" cy="133.0" r="1.6"/><circle cx="156.1" cy="183.4" r="1.6"/><circle cx="164.0" cy="150.4" r="1.6"/><circle cx="172.6" cy="121.2" r="1.6"/><circle cx="103.7" cy="174.9" r="1.6"/><circle cx="110.5" cy="138.7" r="1.6"/><circle cx="315.6" cy="151.6" r="1.6"/><circle cx="125.2" cy="137.8" r="1.6"/><circle cx="136.2" cy="134.6" r="1.6"/><circle cx="119.8" cy="135.9" r="1.6"/><circle cx="164.2" cy="163.0" r="1.6"/><circle cx="291.2" cy="124.3" r="1.6"/><circle cx="143.2" cy="141.4" r="1.6"/><circle cx="138.3" cy="163.0" r="1.6"/><circle cx="144.6" cy="121.6" r="1.6"/><circle cx="90.4" cy="177.7" r="1.6"/><circle cx="105.6" cy="88.6" r="1.6"/><circle cx="109.7" cy="162.0" r="1.6"/><circle cx="138.5" cy="115.4" r="1.6"/><circle cx="305.7" cy="171.4" r="1.6"/><circle cx="121.3" cy="163.4" r="1.6"/><circle cx="153.0" cy="165.8" r="1.6"/><circle cx="126.0" cy="152.3" r="1.6"/><circle cx="97.2" cy="116.5" r="1.6"/><circle cx="214.6" cy="115.7" r="1.6"/><circle cx="129.3" cy="190.0" r="1.6"/><circle cx="127.1" cy="122.2" r="1.6"/><circle cx="188.9" cy="141.3" r="1.6"/><circle cx="120.6" cy="129.1" r="1.6"/><circle cx="119.8" cy="142.2" r="1.6"/><circle cx="264.6" cy="138.6" r="1.6"/><circle cx="116.8" cy="190.7" r="1.6"/><circle cx="211.6" cy="138.0" r="1.6"/><circle cx="145.0" cy="129.7" r="1.6"/><circle cx="155.5" cy="164.2" r="1.6"/><circle cx="144.5" cy="170.4" r="1.6"/><circle cx="135.0" cy="168.8" r="1.6"/><circle cx="244.2" cy="183.3" r="1.6"/><circle cx="248.1" cy="151.3" r="1.6"/><circle cx="124.4" cy="118.6" r="1.6"/><circle cx="180.4" cy="152.7" r="1.6"/><circle cx="125.3" cy="150.3" r="1.6"/><circle cx="141.8" cy="106.3" r="1.6"/><circle cx="104.0" cy="169.0" r="1.6"/><circle cx="165.0" cy="156.5" r="1.6"/><circle cx="166.1" cy="96.5" r="1.6"/><circle cx="195.1" cy="111.1" r="1.6"/><circle cx="184.1" cy="133.5" r="1.6"/><circle cx="141.7" cy="163.2" r="1.6"/><circle cx="115.7" cy="167.4" r="1.6"/><circle cx="91.8" cy="176.2" r="1.6"/><circle cx="163.2" cy="156.9" r="1.6"/><circle cx="236.0" cy="161.2" r="1.6"/><circle cx="147.7" cy="150.5" r="1.6"/><circle cx="176.5" cy="144.7" r="1.6"/><circle cx="231.2" cy="148.0" r="1.6"/><circle cx="212.7" cy="147.5" r="1.6"/><circle cx="183.5" cy="128.8" r="1.6"/><circle cx="151.8" cy="179.2" r="1.6"/><circle cx="128.6" cy="154.1" r="1.6"/><circle cx="195.2" cy="165.3" r="1.6"/><circle cx="145.5" cy="134.1" r="1.6"/><circle cx="172.9" cy="132.7" r="1.6"/><circle cx="124.5" cy="154.8" r="1.6"/><circle cx="280.7" cy="147.6" r="1.6"/><circle cx="124.2" cy="152.2" r="1.6"/><circle cx="182.5" cy="145.3" r="1.6"/><circle cx="220.3" cy="138.7" r="1.6"/><circle cx="113.0" cy="109.5" r="1.6"/><circle cx="199.9" cy="127.9" r="1.6"/><circle cx="164.5" cy="145.8" r="1.6"/><circle cx="170.5" cy="137.2" r="1.6"/><circle cx="123.5" cy="139.2" r="1.6"/><circle cx="144.6" cy="128.7" r="1.6"/><circle cx="119.9" cy="140.5" r="1.6"/><circle cx="149.7" cy="129.9" r="1.6"/><circle cx="179.5" cy="112.4" r="1.6"/><circle cx="179.6" cy="132.1" r="1.6"/><circle cx="180.6" cy="93.4" r="1.6"/><circle cx="130.4" cy="139.7" r="1.6"/><circle cx="140.0" cy="155.1" r="1.6"/><circle cx="191.7" cy="164.6" r="1.6"/><circle cx="301.2" cy="105.3" r="1.6"/><circle cx="116.2" cy="116.8" r="1.6"/><circle cx="145.7" cy="155.6" r="1.6"/><circle cx="139.1" cy="114.8" r="1.6"/><circle cx="284.3" cy="146.8" r="1.6"/><circle cx="84.9" cy="160.1" r="1.6"/><circle cx="239.7" cy="123.8" r="1.6"/><circle cx="184.4" cy="158.3" r="1.6"/><circle cx="143.2" cy="120.3" r="1.6"/><circle cx="167.6" cy="166.7" r="1.6"/><circle cx="137.4" cy="116.1" r="1.6"/><circle cx="169.0" cy="132.2" r="1.6"/><circle cx="132.2" cy="91.1" r="1.6"/><circle cx="245.1" cy="137.9" r="1.6"/><circle cx="152.8" cy="145.0" r="1.6"/><circle cx="193.8" cy="151.5" r="1.6"/><circle cx="162.2" cy="138.2" r="1.6"/><circle cx="134.8" cy="147.1" r="1.6"/><circle cx="283.2" cy="137.7" r="1.6"/><circle cx="121.9" cy="167.3" r="1.6"/><circle cx="223.0" cy="130.0" r="1.6"/><circle cx="312.7" cy="119.2" r="1.6"/><circle cx="200.8" cy="144.6" r="1.6"/><circle cx="176.3" cy="124.3" r="1.6"/><circle cx="164.4" cy="149.5" r="1.6"/><circle cx="224.2" cy="140.0" r="1.6"/><circle cx="150.3" cy="101.3" r="1.6"/><circle cx="195.5" cy="127.5" r="1.6"/><circle cx="191.2" cy="166.6" r="1.6"/><circle cx="209.2" cy="141.4" r="1.6"/><circle cx="148.4" cy="114.1" r="1.6"/><circle cx="169.2" cy="143.5" r="1.6"/><circle cx="111.2" cy="165.7" r="1.6"/><circle cx="106.4" cy="144.7" r="1.6"/></g><g clip-path="url(#c1)"><line x1="79" y1="140.6" x2="351" y2="125.0" stroke="#ff0000" stroke-width="5.2"/></g><g clip-path="url(#c2)"><polygon points="367,160.0 639,77.3 639,107.3 367,190.0" fill="#ffb3b3" stroke="#ff9d9d" stroke-width="1"/></g><g clip-path="url(#c2)" fill="#ff0000"><circle cx="505.2" cy="153.4" r="1.6"/><circle cx="539.3" cy="119.5" r="1.6"/><circle cx="531.1" cy="106.4" r="1.6"/><circle cx="451.8" cy="151.2" r="1.6"/><circle cx="466.1" cy="150.2" r="1.6"/><circle cx="538.9" cy="88.2" r="1.6"/><circle cx="398.8" cy="172.0" r="1.6"/><circle cx="534.4" cy="138.6" r="1.6"/><circle cx="525.3" cy="162.2" r="1.6"/><circle cx="473.5" cy="146.6" r="1.6"/><circle cx="460.5" cy="115.0" r="1.6"/><circle cx="465.3" cy="141.9" r="1.6"/><circle cx="452.7" cy="135.8" r="1.6"/><circle cx="477.6" cy="181.5" r="1.6"/><circle cx="472.7" cy="137.0" r="1.6"/><circle cx="483.6" cy="128.4" r="1.6"/><circle cx="605.3" cy="97.1" r="1.6"/><circle cx="524.5" cy="133.6" r="1.6"/><circle cx="499.4" cy="123.6" r="1.6"/><circle cx="590.2" cy="116.3" r="1.6"/><circle cx="455.1" cy="163.7" r="1.6"/><circle cx="449.6" cy="151.0" r="1.6"/><circle cx="513.2" cy="131.4" r="1.6"/><circle cx="420.1" cy="195.1" r="1.6"/><circle cx="419.5" cy="152.2" r="1.6"/><circle cx="490.3" cy="127.9" r="1.6"/><circle cx="478.4" cy="158.9" r="1.6"/><circle cx="551.6" cy="133.3" r="1.6"/><circle cx="499.2" cy="110.8" r="1.6"/><circle cx="487.4" cy="133.0" r="1.6"/><circle cx="479.3" cy="124.9" r="1.6"/><circle cx="464.1" cy="124.6" r="1.6"/><circle cx="408.3" cy="172.1" r="1.6"/><circle cx="431.8" cy="145.2" r="1.6"/><circle cx="510.0" cy="132.2" r="1.6"/><circle cx="442.0" cy="154.4" r="1.6"/><circle cx="459.4" cy="148.4" r="1.6"/><circle cx="396.3" cy="168.2" r="1.6"/><circle cx="515.5" cy="110.2" r="1.6"/><circle cx="436.1" cy="153.8" r="1.6"/><circle cx="464.5" cy="147.5" r="1.6"/><circle cx="536.9" cy="122.9" r="1.6"/><circle cx="486.3" cy="171.7" r="1.6"/><circle cx="554.9" cy="127.4" r="1.6"/><circle cx="513.6" cy="134.7" r="1.6"/><circle cx="532.6" cy="121.2" r="1.6"/><circle cx="447.5" cy="159.8" r="1.6"/><circle cx="476.1" cy="142.8" r="1.6"/><circle cx="492.6" cy="144.0" r="1.6"/><circle cx="539.1" cy="88.5" r="1.6"/><circle cx="469.6" cy="123.8" r="1.6"/><circle cx="511.5" cy="121.5" r="1.6"/><circle cx="422.8" cy="160.8" r="1.6"/><circle cx="483.2" cy="106.1" r="1.6"/><circle cx="455.7" cy="143.7" r="1.6"/><circle cx="441.5" cy="154.9" r="1.6"/><circle cx="520.1" cy="120.5" r="1.6"/><circle cx="475.0" cy="136.9" r="1.6"/><circle cx="558.4" cy="94.1" r="1.6"/><circle cx="509.9" cy="129.0" r="1.6"/><circle cx="512.4" cy="96.8" r="1.6"/><circle cx="496.2" cy="146.7" r="1.6"/><circle cx="493.5" cy="124.5" r="1.6"/><circle cx="436.2" cy="170.3" r="1.6"/><circle cx="475.2" cy="109.4" r="1.6"/><circle cx="455.5" cy="153.4" r="1.6"/><circle cx="484.5" cy="138.8" r="1.6"/><circle cx="439.5" cy="140.8" r="1.6"/><circle cx="564.7" cy="97.5" r="1.6"/><circle cx="455.8" cy="164.8" r="1.6"/><circle cx="507.1" cy="184.6" r="1.6"/><circle cx="457.6" cy="149.2" r="1.6"/><circle cx="543.2" cy="114.5" r="1.6"/><circle cx="502.9" cy="132.7" r="1.6"/><circle cx="449.5" cy="155.8" r="1.6"/><circle cx="540.0" cy="127.8" r="1.6"/><circle cx="570.7" cy="108.8" r="1.6"/><circle cx="541.3" cy="128.2" r="1.6"/><circle cx="511.8" cy="120.2" r="1.6"/><circle cx="438.9" cy="132.3" r="1.6"/><circle cx="441.2" cy="182.2" r="1.6"/><circle cx="553.2" cy="115.6" r="1.6"/><circle cx="486.4" cy="143.4" r="1.6"/><circle cx="432.6" cy="149.6" r="1.6"/><circle cx="537.7" cy="132.6" r="1.6"/><circle cx="513.8" cy="129.4" r="1.6"/><circle cx="493.8" cy="149.9" r="1.6"/><circle cx="478.6" cy="129.8" r="1.6"/><circle cx="492.3" cy="133.6" r="1.6"/><circle cx="451.8" cy="152.2" r="1.6"/><circle cx="413.2" cy="157.5" r="1.6"/><circle cx="539.3" cy="121.6" r="1.6"/><circle cx="474.2" cy="164.6" r="1.6"/><circle cx="482.2" cy="130.0" r="1.6"/><circle cx="463.9" cy="141.2" r="1.6"/><circle cx="520.7" cy="127.0" r="1.6"/><circle cx="412.1" cy="148.8" r="1.6"/><circle cx="468.4" cy="205.9" r="1.6"/><circle cx="426.6" cy="174.9" r="1.6"/><circle cx="442.4" cy="164.8" r="1.6"/><circle cx="558.6" cy="172.6" r="1.6"/><circle cx="504.5" cy="109.8" r="1.6"/><circle cx="485.5" cy="148.5" r="1.6"/><circle cx="481.3" cy="156.5" r="1.6"/><circle cx="552.9" cy="123.2" r="1.6"/><circle cx="459.6" cy="154.3" r="1.6"/><circle cx="503.8" cy="154.2" r="1.6"/><circle cx="495.6" cy="133.4" r="1.6"/><circle cx="463.3" cy="164.6" r="1.6"/><circle cx="488.3" cy="154.4" r="1.6"/><circle cx="529.3" cy="108.1" r="1.6"/><circle cx="540.2" cy="127.7" r="1.6"/><circle cx="451.4" cy="155.0" r="1.6"/><circle cx="570.7" cy="107.9" r="1.6"/><circle cx="397.8" cy="155.7" r="1.6"/><circle cx="522.7" cy="129.0" r="1.6"/><circle cx="530.3" cy="120.6" r="1.6"/><circle cx="434.3" cy="168.4" r="1.6"/><circle cx="485.7" cy="111.8" r="1.6"/><circle cx="529.0" cy="112.1" r="1.6"/><circle cx="399.8" cy="183.4" r="1.6"/><circle cx="511.4" cy="128.1" r="1.6"/><circle cx="523.8" cy="113.1" r="1.6"/><circle cx="482.0" cy="168.6" r="1.6"/><circle cx="520.0" cy="98.1" r="1.6"/><circle cx="470.7" cy="122.8" r="1.6"/><circle cx="437.3" cy="163.1" r="1.6"/><circle cx="466.0" cy="146.0" r="1.6"/><circle cx="439.2" cy="173.3" r="1.6"/><circle cx="471.0" cy="139.2" r="1.6"/><circle cx="575.5" cy="115.8" r="1.6"/><circle cx="493.8" cy="95.4" r="1.6"/><circle cx="472.2" cy="141.0" r="1.6"/><circle cx="464.1" cy="176.2" r="1.6"/><circle cx="557.3" cy="124.5" r="1.6"/><circle cx="482.7" cy="136.9" r="1.6"/><circle cx="577.6" cy="136.9" r="1.6"/><circle cx="483.8" cy="151.0" r="1.6"/><circle cx="476.2" cy="146.4" r="1.6"/><circle cx="542.5" cy="111.7" r="1.6"/><circle cx="520.4" cy="127.3" r="1.6"/><circle cx="505.8" cy="143.3" r="1.6"/><circle cx="489.5" cy="124.5" r="1.6"/><circle cx="554.4" cy="122.0" r="1.6"/><circle cx="479.2" cy="147.2" r="1.6"/><circle cx="546.8" cy="135.6" r="1.6"/><circle cx="410.0" cy="175.5" r="1.6"/><circle cx="480.1" cy="129.9" r="1.6"/><circle cx="492.4" cy="158.9" r="1.6"/><circle cx="558.2" cy="115.8" r="1.6"/><circle cx="469.6" cy="132.8" r="1.6"/><circle cx="527.6" cy="127.8" r="1.6"/><circle cx="499.3" cy="129.0" r="1.6"/><circle cx="509.4" cy="145.3" r="1.6"/><circle cx="499.2" cy="113.3" r="1.6"/><circle cx="574.4" cy="101.6" r="1.6"/><circle cx="453.2" cy="145.9" r="1.6"/><circle cx="474.8" cy="167.3" r="1.6"/><circle cx="446.3" cy="167.3" r="1.6"/><circle cx="419.2" cy="146.7" r="1.6"/><circle cx="454.6" cy="123.6" r="1.6"/><circle cx="545.6" cy="111.3" r="1.6"/><circle cx="520.2" cy="106.5" r="1.6"/><circle cx="442.1" cy="162.4" r="1.6"/><circle cx="508.7" cy="131.9" r="1.6"/><circle cx="490.2" cy="135.8" r="1.6"/><circle cx="494.4" cy="128.1" r="1.6"/><circle cx="505.5" cy="152.8" r="1.6"/><circle cx="472.0" cy="128.6" r="1.6"/><circle cx="565.3" cy="96.6" r="1.6"/><circle cx="488.4" cy="153.4" r="1.6"/><circle cx="495.2" cy="154.0" r="1.6"/><circle cx="511.4" cy="123.0" r="1.6"/><circle cx="442.8" cy="161.6" r="1.6"/><circle cx="428.4" cy="193.2" r="1.6"/><circle cx="488.8" cy="124.5" r="1.6"/><circle cx="532.2" cy="118.3" r="1.6"/><circle cx="515.2" cy="133.8" r="1.6"/><circle cx="529.0" cy="90.6" r="1.6"/><circle cx="434.8" cy="154.0" r="1.6"/><circle cx="540.4" cy="128.7" r="1.6"/><circle cx="520.8" cy="123.2" r="1.6"/><circle cx="547.2" cy="130.4" r="1.6"/><circle cx="485.4" cy="131.7" r="1.6"/><circle cx="554.3" cy="108.4" r="1.6"/><circle cx="410.1" cy="172.1" r="1.6"/><circle cx="413.9" cy="169.4" r="1.6"/><circle cx="396.5" cy="143.5" r="1.6"/><circle cx="468.6" cy="131.1" r="1.6"/><circle cx="463.0" cy="134.0" r="1.6"/><circle cx="441.3" cy="145.9" r="1.6"/><circle cx="509.0" cy="121.9" r="1.6"/><circle cx="423.5" cy="138.3" r="1.6"/><circle cx="499.2" cy="132.9" r="1.6"/><circle cx="432.5" cy="129.6" r="1.6"/><circle cx="502.8" cy="145.3" r="1.6"/><circle cx="407.3" cy="168.5" r="1.6"/><circle cx="464.0" cy="165.7" r="1.6"/><circle cx="556.8" cy="119.6" r="1.6"/><circle cx="481.5" cy="131.4" r="1.6"/><circle cx="522.1" cy="102.9" r="1.6"/><circle cx="505.3" cy="140.1" r="1.6"/><circle cx="505.4" cy="130.2" r="1.6"/><circle cx="450.5" cy="155.6" r="1.6"/><circle cx="500.2" cy="143.1" r="1.6"/><circle cx="418.3" cy="178.9" r="1.6"/><circle cx="526.8" cy="121.6" r="1.6"/><circle cx="574.2" cy="143.3" r="1.6"/><circle cx="549.6" cy="112.6" r="1.6"/><circle cx="419.7" cy="160.7" r="1.6"/><circle cx="468.5" cy="153.5" r="1.6"/><circle cx="461.6" cy="161.2" r="1.6"/><circle cx="450.8" cy="170.6" r="1.6"/><circle cx="499.1" cy="105.1" r="1.6"/><circle cx="516.7" cy="146.0" r="1.6"/><circle cx="468.8" cy="120.7" r="1.6"/><circle cx="541.1" cy="108.5" r="1.6"/><circle cx="531.7" cy="126.1" r="1.6"/><circle cx="443.4" cy="170.0" r="1.6"/><circle cx="524.6" cy="107.9" r="1.6"/><circle cx="536.7" cy="93.4" r="1.6"/><circle cx="447.1" cy="165.4" r="1.6"/><circle cx="494.6" cy="138.7" r="1.6"/><circle cx="513.3" cy="111.9" r="1.6"/><circle cx="511.5" cy="123.2" r="1.6"/><circle cx="437.0" cy="180.1" r="1.6"/><circle cx="495.9" cy="142.2" r="1.6"/><circle cx="511.7" cy="120.1" r="1.6"/><circle cx="524.0" cy="168.5" r="1.6"/><circle cx="516.6" cy="207.6" r="1.6"/><circle cx="461.9" cy="156.9" r="1.6"/><circle cx="519.2" cy="157.8" r="1.6"/><circle cx="543.4" cy="118.3" r="1.6"/><circle cx="548.2" cy="116.8" r="1.6"/><circle cx="449.8" cy="122.4" r="1.6"/><circle cx="426.5" cy="163.8" r="1.6"/><circle cx="496.6" cy="133.7" r="1.6"/><circle cx="461.5" cy="137.6" r="1.6"/><circle cx="503.5" cy="107.7" r="1.6"/><circle cx="576.3" cy="119.1" r="1.6"/><circle cx="474.2" cy="155.9" r="1.6"/><circle cx="462.2" cy="138.5" r="1.6"/><circle cx="491.4" cy="139.8" r="1.6"/><circle cx="501.5" cy="130.6" r="1.6"/><circle cx="436.1" cy="155.2" r="1.6"/><circle cx="483.9" cy="151.6" r="1.6"/><circle cx="437.4" cy="137.3" r="1.6"/><circle cx="512.5" cy="148.1" r="1.6"/><circle cx="515.8" cy="109.3" r="1.6"/><circle cx="476.7" cy="180.1" r="1.6"/><circle cx="453.3" cy="150.7" r="1.6"/><circle cx="487.2" cy="148.2" r="1.6"/><circle cx="457.6" cy="151.1" r="1.6"/><circle cx="470.3" cy="136.2" r="1.6"/><circle cx="470.1" cy="132.2" r="1.6"/><circle cx="491.9" cy="131.0" r="1.6"/><circle cx="415.2" cy="147.7" r="1.6"/><circle cx="514.1" cy="141.2" r="1.6"/><circle cx="501.3" cy="128.4" r="1.6"/><circle cx="471.6" cy="165.8" r="1.6"/><circle cx="425.8" cy="147.8" r="1.6"/><circle cx="515.3" cy="124.5" r="1.6"/><circle cx="445.3" cy="158.4" r="1.6"/><circle cx="449.8" cy="133.5" r="1.6"/><circle cx="450.8" cy="140.0" r="1.6"/><circle cx="424.8" cy="170.5" r="1.6"/><circle cx="552.9" cy="166.7" r="1.6"/><circle cx="469.1" cy="165.0" r="1.6"/><circle cx="459.0" cy="127.0" r="1.6"/><circle cx="516.1" cy="89.8" r="1.6"/><circle cx="508.4" cy="136.9" r="1.6"/><circle cx="433.5" cy="155.4" r="1.6"/><circle cx="480.4" cy="143.2" r="1.6"/><circle cx="555.6" cy="109.1" r="1.6"/><circle cx="484.0" cy="128.6" r="1.6"/><circle cx="504.1" cy="111.8" r="1.6"/><circle cx="450.4" cy="164.9" r="1.6"/><circle cx="520.0" cy="101.9" r="1.6"/><circle cx="534.9" cy="133.3" r="1.6"/><circle cx="533.0" cy="116.2" r="1.6"/><circle cx="500.8" cy="114.9" r="1.6"/><circle cx="458.3" cy="137.0" r="1.6"/><circle cx="412.5" cy="177.0" r="1.6"/><circle cx="491.4" cy="145.8" r="1.6"/><circle cx="517.9" cy="132.6" r="1.6"/><circle cx="430.9" cy="158.3" r="1.6"/><circle cx="470.1" cy="126.3" r="1.6"/><circle cx="484.8" cy="156.9" r="1.6"/><circle cx="528.0" cy="115.2" r="1.6"/><circle cx="550.2" cy="105.0" r="1.6"/><circle cx="431.6" cy="149.0" r="1.6"/><circle cx="432.6" cy="150.0" r="1.6"/><circle cx="524.5" cy="101.0" r="1.6"/><circle cx="494.2" cy="127.2" r="1.6"/><circle cx="524.6" cy="110.7" r="1.6"/><circle cx="612.7" cy="116.7" r="1.6"/><circle cx="569.4" cy="90.5" r="1.6"/><circle cx="526.9" cy="150.5" r="1.6"/><circle cx="515.0" cy="107.9" r="1.6"/><circle cx="477.3" cy="144.4" r="1.6"/><circle cx="511.9" cy="132.1" r="1.6"/><circle cx="433.2" cy="170.9" r="1.6"/><circle cx="525.2" cy="150.6" r="1.6"/><circle cx="515.1" cy="132.4" r="1.6"/><circle cx="533.6" cy="130.2" r="1.6"/><circle cx="475.9" cy="133.8" r="1.6"/><circle cx="480.9" cy="160.9" r="1.6"/><circle cx="483.8" cy="117.1" r="1.6"/><circle cx="424.8" cy="155.4" r="1.6"/><circle cx="554.4" cy="117.7" r="1.6"/><circle cx="487.7" cy="132.3" r="1.6"/><circle cx="479.6" cy="151.3" r="1.6"/><circle cx="473.9" cy="158.4" r="1.6"/><circle cx="528.8" cy="129.8" r="1.6"/><circle cx="492.6" cy="134.9" r="1.6"/><circle cx="514.4" cy="129.7" r="1.6"/><circle cx="551.0" cy="134.5" r="1.6"/><circle cx="476.0" cy="145.0" r="1.6"/><circle cx="440.3" cy="167.2" r="1.6"/><circle cx="524.9" cy="120.8" r="1.6"/><circle cx="589.4" cy="93.1" r="1.6"/><circle cx="451.3" cy="140.8" r="1.6"/><circle cx="507.5" cy="134.2" r="1.6"/><circle cx="522.2" cy="148.1" r="1.6"/><circle cx="549.8" cy="135.0" r="1.6"/><circle cx="440.4" cy="178.9" r="1.6"/><circle cx="439.3" cy="143.7" r="1.6"/><circle cx="584.2" cy="130.9" r="1.6"/><circle cx="441.0" cy="152.9" r="1.6"/><circle cx="436.5" cy="164.6" r="1.6"/><circle cx="498.2" cy="131.6" r="1.6"/><circle cx="475.5" cy="120.6" r="1.6"/><circle cx="523.2" cy="133.9" r="1.6"/><circle cx="436.8" cy="160.4" r="1.6"/><circle cx="552.3" cy="125.6" r="1.6"/><circle cx="469.2" cy="130.6" r="1.6"/><circle cx="521.2" cy="139.7" r="1.6"/><circle cx="422.7" cy="176.7" r="1.6"/><circle cx="491.2" cy="156.0" r="1.6"/><circle cx="417.3" cy="182.4" r="1.6"/><circle cx="463.1" cy="138.8" r="1.6"/><circle cx="460.8" cy="108.8" r="1.6"/><circle cx="527.6" cy="136.9" r="1.6"/><circle cx="492.4" cy="136.0" r="1.6"/><circle cx="412.7" cy="159.4" r="1.6"/><circle cx="617.5" cy="142.1" r="1.6"/><circle cx="548.8" cy="118.6" r="1.6"/><circle cx="551.5" cy="117.0" r="1.6"/><circle cx="464.8" cy="155.3" r="1.6"/><circle cx="490.5" cy="181.5" r="1.6"/><circle cx="458.3" cy="175.6" r="1.6"/><circle cx="445.4" cy="146.6" r="1.6"/><circle cx="415.3" cy="157.4" r="1.6"/><circle cx="483.0" cy="147.0" r="1.6"/><circle cx="444.9" cy="150.2" r="1.6"/><circle cx="434.9" cy="143.1" r="1.6"/><circle cx="536.2" cy="116.9" r="1.6"/><circle cx="488.8" cy="130.2" r="1.6"/><circle cx="447.5" cy="177.6" r="1.6"/><circle cx="507.1" cy="159.6" r="1.6"/><circle cx="458.2" cy="125.8" r="1.6"/><circle cx="486.1" cy="103.8" r="1.6"/><circle cx="453.3" cy="134.9" r="1.6"/><circle cx="486.2" cy="122.4" r="1.6"/><circle cx="505.2" cy="151.1" r="1.6"/><circle cx="485.2" cy="139.4" r="1.6"/><circle cx="481.7" cy="150.9" r="1.6"/><circle cx="518.7" cy="134.1" r="1.6"/><circle cx="550.0" cy="99.8" r="1.6"/><circle cx="440.4" cy="165.9" r="1.6"/><circle cx="446.2" cy="181.1" r="1.6"/><circle cx="438.3" cy="182.9" r="1.6"/><circle cx="557.5" cy="117.0" r="1.6"/><circle cx="567.0" cy="115.1" r="1.6"/><circle cx="464.5" cy="155.6" r="1.6"/><circle cx="574.9" cy="128.5" r="1.6"/><circle cx="470.0" cy="115.4" r="1.6"/><circle cx="473.6" cy="159.8" r="1.6"/><circle cx="488.4" cy="152.0" r="1.6"/><circle cx="540.3" cy="129.5" r="1.6"/><circle cx="424.4" cy="141.9" r="1.6"/><circle cx="459.4" cy="116.1" r="1.6"/><circle cx="499.9" cy="127.4" r="1.6"/><circle cx="420.0" cy="186.2" r="1.6"/><circle cx="462.6" cy="152.2" r="1.6"/><circle cx="486.8" cy="121.4" r="1.6"/><circle cx="548.2" cy="128.1" r="1.6"/><circle cx="528.2" cy="100.6" r="1.6"/><circle cx="522.0" cy="103.4" r="1.6"/><circle cx="528.2" cy="121.0" r="1.6"/><circle cx="500.4" cy="122.6" r="1.6"/><circle cx="547.5" cy="103.9" r="1.6"/><circle cx="502.8" cy="108.4" r="1.6"/><circle cx="525.8" cy="138.4" r="1.6"/><circle cx="451.9" cy="132.4" r="1.6"/><circle cx="441.1" cy="159.3" r="1.6"/><circle cx="518.6" cy="136.8" r="1.6"/><circle cx="438.7" cy="153.1" r="1.6"/><circle cx="536.4" cy="122.2" r="1.6"/><circle cx="506.9" cy="144.3" r="1.6"/><circle cx="470.1" cy="166.7" r="1.6"/><circle cx="563.1" cy="129.6" r="1.6"/><circle cx="432.9" cy="135.4" r="1.6"/><circle cx="485.3" cy="181.8" r="1.6"/><circle cx="433.3" cy="163.4" r="1.6"/><circle cx="574.3" cy="100.3" r="1.6"/><circle cx="495.8" cy="141.5" r="1.6"/><circle cx="521.6" cy="125.6" r="1.6"/><circle cx="461.8" cy="142.1" r="1.6"/><circle cx="516.5" cy="142.2" r="1.6"/><circle cx="499.8" cy="146.9" r="1.6"/><circle cx="498.9" cy="131.3" r="1.6"/><circle cx="570.6" cy="121.8" r="1.6"/><circle cx="492.9" cy="150.5" r="1.6"/><circle cx="479.9" cy="133.9" r="1.6"/><circle cx="509.7" cy="132.6" r="1.6"/><circle cx="517.0" cy="111.1" r="1.6"/><circle cx="463.6" cy="145.6" r="1.6"/><circle cx="502.2" cy="146.7" r="1.6"/><circle cx="457.5" cy="145.9" r="1.6"/><circle cx="489.5" cy="138.7" r="1.6"/><circle cx="529.6" cy="131.3" r="1.6"/><circle cx="412.6" cy="169.1" r="1.6"/><circle cx="520.1" cy="113.9" r="1.6"/><circle cx="406.1" cy="155.6" r="1.6"/><circle cx="576.4" cy="99.2" r="1.6"/><circle cx="485.1" cy="162.7" r="1.6"/><circle cx="490.5" cy="141.5" r="1.6"/><circle cx="534.6" cy="125.8" r="1.6"/><circle cx="487.8" cy="134.2" r="1.6"/><circle cx="527.5" cy="128.9" r="1.6"/><circle cx="435.3" cy="163.5" r="1.6"/><circle cx="500.9" cy="120.4" r="1.6"/><circle cx="506.2" cy="127.4" r="1.6"/><circle cx="575.0" cy="135.1" r="1.6"/><circle cx="416.1" cy="142.4" r="1.6"/><circle cx="480.6" cy="124.7" r="1.6"/><circle cx="493.7" cy="143.1" r="1.6"/><circle cx="486.9" cy="124.8" r="1.6"/><circle cx="419.1" cy="172.0" r="1.6"/><circle cx="509.8" cy="112.1" r="1.6"/><circle cx="456.4" cy="151.4" r="1.6"/><circle cx="444.4" cy="164.4" r="1.6"/><circle cx="548.9" cy="120.0" r="1.6"/><circle cx="440.4" cy="165.3" r="1.6"/><circle cx="476.3" cy="138.1" r="1.6"/><circle cx="522.4" cy="121.5" r="1.6"/><circle cx="508.7" cy="128.6" r="1.6"/><circle cx="476.3" cy="149.1" r="1.6"/><circle cx="515.9" cy="180.4" r="1.6"/><circle cx="482.0" cy="137.5" r="1.6"/><circle cx="498.1" cy="160.9" r="1.6"/><circle cx="530.7" cy="117.5" r="1.6"/><circle cx="510.2" cy="111.9" r="1.6"/><circle cx="512.9" cy="123.6" r="1.6"/><circle cx="489.9" cy="141.7" r="1.6"/><circle cx="506.7" cy="132.5" r="1.6"/><circle cx="476.3" cy="142.9" r="1.6"/><circle cx="531.2" cy="129.0" r="1.6"/><circle cx="487.5" cy="145.4" r="1.6"/><circle cx="487.9" cy="150.3" r="1.6"/><circle cx="528.6" cy="104.4" r="1.6"/><circle cx="489.7" cy="136.3" r="1.6"/><circle cx="457.7" cy="133.6" r="1.6"/><circle cx="528.1" cy="125.7" r="1.6"/><circle cx="483.1" cy="137.4" r="1.6"/><circle cx="541.9" cy="119.5" r="1.6"/><circle cx="520.9" cy="117.9" r="1.6"/><circle cx="475.6" cy="129.0" r="1.6"/><circle cx="503.4" cy="127.5" r="1.6"/><circle cx="417.5" cy="171.6" r="1.6"/><circle cx="481.1" cy="150.7" r="1.6"/><circle cx="552.6" cy="89.3" r="1.6"/><circle cx="507.4" cy="133.7" r="1.6"/><circle cx="507.4" cy="133.9" r="1.6"/><circle cx="513.7" cy="105.7" r="1.6"/><circle cx="497.7" cy="117.1" r="1.6"/><circle cx="503.8" cy="123.1" r="1.6"/><circle cx="474.3" cy="147.6" r="1.6"/><circle cx="438.9" cy="119.9" r="1.6"/><circle cx="471.3" cy="153.2" r="1.6"/><circle cx="453.3" cy="141.3" r="1.6"/><circle cx="488.2" cy="139.1" r="1.6"/><circle cx="615.4" cy="146.3" r="1.6"/><circle cx="462.1" cy="165.8" r="1.6"/><circle cx="489.0" cy="130.3" r="1.6"/><circle cx="460.7" cy="140.9" r="1.6"/><circle cx="500.6" cy="135.6" r="1.6"/><circle cx="566.3" cy="133.6" r="1.6"/><circle cx="538.9" cy="139.3" r="1.6"/><circle cx="478.8" cy="144.9" r="1.6"/><circle cx="457.9" cy="169.1" r="1.6"/><circle cx="555.5" cy="101.0" r="1.6"/><circle cx="479.3" cy="122.8" r="1.6"/><circle cx="498.0" cy="94.1" r="1.6"/><circle cx="429.4" cy="145.0" r="1.6"/><circle cx="537.8" cy="127.3" r="1.6"/><circle cx="471.6" cy="155.5" r="1.6"/><circle cx="490.1" cy="186.7" r="1.6"/><circle cx="444.2" cy="161.4" r="1.6"/><circle cx="481.3" cy="141.7" r="1.6"/><circle cx="518.2" cy="111.4" r="1.6"/><circle cx="516.3" cy="117.4" r="1.6"/><circle cx="474.5" cy="132.9" r="1.6"/><circle cx="521.3" cy="121.4" r="1.6"/><circle cx="480.8" cy="129.5" r="1.6"/><circle cx="491.6" cy="114.0" r="1.6"/><circle cx="483.5" cy="154.0" r="1.6"/><circle cx="451.3" cy="156.8" r="1.6"/><circle cx="466.5" cy="165.0" r="1.6"/><circle cx="496.2" cy="109.8" r="1.6"/><circle cx="525.6" cy="103.9" r="1.6"/><circle cx="413.2" cy="151.9" r="1.6"/><circle cx="514.9" cy="144.5" r="1.6"/><circle cx="533.7" cy="117.5" r="1.6"/><circle cx="479.4" cy="143.3" r="1.6"/><circle cx="413.8" cy="190.2" r="1.6"/><circle cx="495.3" cy="125.3" r="1.6"/><circle cx="465.1" cy="137.4" r="1.6"/><circle cx="502.8" cy="137.1" r="1.6"/><circle cx="472.6" cy="129.7" r="1.6"/><circle cx="508.1" cy="125.8" r="1.6"/><circle cx="456.9" cy="152.3" r="1.6"/><circle cx="488.6" cy="138.1" r="1.6"/><circle cx="482.5" cy="145.2" r="1.6"/><circle cx="504.4" cy="146.9" r="1.6"/><circle cx="440.2" cy="158.1" r="1.6"/><circle cx="569.8" cy="112.6" r="1.6"/><circle cx="472.2" cy="148.2" r="1.6"/><circle cx="468.1" cy="165.8" r="1.6"/><circle cx="453.0" cy="136.1" r="1.6"/><circle cx="420.2" cy="176.4" r="1.6"/><circle cx="477.2" cy="130.6" r="1.6"/><circle cx="516.2" cy="120.2" r="1.6"/><circle cx="497.3" cy="157.7" r="1.6"/><circle cx="435.9" cy="169.6" r="1.6"/><circle cx="450.7" cy="157.9" r="1.6"/><circle cx="467.0" cy="156.4" r="1.6"/><circle cx="531.8" cy="203.1" r="1.6"/><circle cx="486.9" cy="126.2" r="1.6"/><circle cx="541.5" cy="120.7" r="1.6"/><circle cx="501.4" cy="126.1" r="1.6"/><circle cx="502.4" cy="137.8" r="1.6"/><circle cx="520.2" cy="120.4" r="1.6"/><circle cx="522.8" cy="135.0" r="1.6"/><circle cx="467.6" cy="144.5" r="1.6"/><circle cx="453.1" cy="140.8" r="1.6"/><circle cx="478.1" cy="139.6" r="1.6"/><circle cx="482.3" cy="145.5" r="1.6"/><circle cx="444.8" cy="168.4" r="1.6"/><circle cx="485.8" cy="135.0" r="1.6"/><circle cx="508.3" cy="124.2" r="1.6"/><circle cx="432.9" cy="187.2" r="1.6"/><circle cx="434.4" cy="167.5" r="1.6"/><circle cx="437.1" cy="147.2" r="1.6"/><circle cx="457.4" cy="111.3" r="1.6"/><circle cx="571.5" cy="121.7" r="1.6"/><circle cx="430.5" cy="152.7" r="1.6"/><circle cx="444.9" cy="146.8" r="1.6"/><circle cx="431.4" cy="195.1" r="1.6"/><circle cx="478.6" cy="138.3" r="1.6"/><circle cx="405.7" cy="175.7" r="1.6"/><circle cx="491.6" cy="115.0" r="1.6"/><circle cx="443.1" cy="156.8" r="1.6"/><circle cx="458.8" cy="158.8" r="1.6"/><circle cx="521.4" cy="127.7" r="1.6"/><circle cx="443.9" cy="150.3" r="1.6"/><circle cx="511.2" cy="136.5" r="1.6"/><circle cx="479.5" cy="140.6" r="1.6"/><circle cx="476.3" cy="160.9" r="1.6"/><circle cx="514.1" cy="130.5" r="1.6"/><circle cx="433.5" cy="145.1" r="1.6"/><circle cx="552.6" cy="84.7" r="1.6"/><circle cx="547.9" cy="104.4" r="1.6"/><circle cx="513.8" cy="149.4" r="1.6"/><circle cx="411.3" cy="146.1" r="1.6"/><circle cx="500.8" cy="117.0" r="1.6"/><circle cx="509.8" cy="104.2" r="1.6"/><circle cx="527.8" cy="106.2" r="1.6"/><circle cx="452.9" cy="145.6" r="1.6"/><circle cx="564.1" cy="112.1" r="1.6"/><circle cx="548.2" cy="112.1" r="1.6"/><circle cx="445.0" cy="147.9" r="1.6"/><circle cx="460.9" cy="143.6" r="1.6"/><circle cx="413.8" cy="174.3" r="1.6"/><circle cx="534.2" cy="150.8" r="1.6"/><circle cx="544.6" cy="125.9" r="1.6"/><circle cx="591.5" cy="150.9" r="1.6"/><circle cx="504.3" cy="129.7" r="1.6"/><circle cx="494.9" cy="134.1" r="1.6"/><circle cx="498.1" cy="157.7" r="1.6"/><circle cx="494.5" cy="124.2" r="1.6"/><circle cx="559.7" cy="102.3" r="1.6"/><circle cx="497.4" cy="159.9" r="1.6"/><circle cx="460.2" cy="170.2" r="1.6"/><circle cx="479.1" cy="112.4" r="1.6"/><circle cx="396.6" cy="185.9" r="1.6"/><circle cx="531.1" cy="105.7" r="1.6"/><circle cx="493.6" cy="128.1" r="1.6"/><circle cx="474.5" cy="135.4" r="1.6"/><circle cx="551.7" cy="99.8" r="1.6"/><circle cx="525.2" cy="133.7" r="1.6"/><circle cx="460.7" cy="155.4" r="1.6"/><circle cx="415.4" cy="174.5" r="1.6"/><circle cx="442.0" cy="164.6" r="1.6"/><circle cx="435.3" cy="157.3" r="1.6"/><circle cx="469.4" cy="164.8" r="1.6"/><circle cx="489.5" cy="151.5" r="1.6"/><circle cx="541.6" cy="108.6" r="1.6"/><circle cx="452.0" cy="150.8" r="1.6"/><circle cx="553.4" cy="108.3" r="1.6"/><circle cx="499.4" cy="160.3" r="1.6"/><circle cx="548.6" cy="126.1" r="1.6"/><circle cx="490.2" cy="144.0" r="1.6"/><circle cx="384.8" cy="171.2" r="1.6"/><circle cx="532.0" cy="129.3" r="1.6"/><circle cx="461.7" cy="132.5" r="1.6"/><circle cx="448.2" cy="152.0" r="1.6"/><circle cx="523.7" cy="123.4" r="1.6"/><circle cx="498.7" cy="132.6" r="1.6"/><circle cx="461.5" cy="135.9" r="1.6"/><circle cx="458.5" cy="154.4" r="1.6"/><circle cx="571.7" cy="100.8" r="1.6"/><circle cx="468.9" cy="136.9" r="1.6"/><circle cx="496.1" cy="131.4" r="1.6"/><circle cx="434.1" cy="187.4" r="1.6"/><circle cx="522.0" cy="116.6" r="1.6"/><circle cx="440.3" cy="139.1" r="1.6"/><circle cx="492.3" cy="121.2" r="1.6"/><circle cx="429.5" cy="152.4" r="1.6"/><circle cx="492.5" cy="122.1" r="1.6"/><circle cx="550.1" cy="112.3" r="1.6"/><circle cx="444.8" cy="134.0" r="1.6"/><circle cx="457.2" cy="148.3" r="1.6"/><circle cx="521.8" cy="154.9" r="1.6"/><circle cx="493.3" cy="115.0" r="1.6"/><circle cx="468.9" cy="142.1" r="1.6"/><circle cx="499.0" cy="149.9" r="1.6"/><circle cx="474.0" cy="144.7" r="1.6"/><circle cx="541.5" cy="130.2" r="1.6"/><circle cx="458.3" cy="116.6" r="1.6"/><circle cx="529.1" cy="114.3" r="1.6"/><circle cx="493.3" cy="157.8" r="1.6"/><circle cx="518.8" cy="117.4" r="1.6"/><circle cx="491.0" cy="141.4" r="1.6"/><circle cx="531.9" cy="92.4" r="1.6"/><circle cx="506.3" cy="145.5" r="1.6"/><circle cx="484.0" cy="171.2" r="1.6"/><circle cx="414.5" cy="161.6" r="1.6"/><circle cx="574.0" cy="122.9" r="1.6"/><circle cx="509.1" cy="135.1" r="1.6"/><circle cx="462.2" cy="177.6" r="1.6"/><circle cx="517.4" cy="119.7" r="1.6"/><circle cx="456.0" cy="123.7" r="1.6"/><circle cx="480.3" cy="167.6" r="1.6"/><circle cx="541.8" cy="99.8" r="1.6"/><circle cx="473.6" cy="150.3" r="1.6"/><circle cx="460.0" cy="112.3" r="1.6"/><circle cx="460.9" cy="149.8" r="1.6"/><circle cx="415.8" cy="164.9" r="1.6"/><circle cx="459.5" cy="130.8" r="1.6"/><circle cx="458.4" cy="139.7" r="1.6"/><circle cx="438.5" cy="181.2" r="1.6"/><circle cx="422.7" cy="149.6" r="1.6"/><circle cx="482.7" cy="146.1" r="1.6"/><circle cx="455.6" cy="174.8" r="1.6"/><circle cx="530.6" cy="156.3" r="1.6"/><circle cx="545.6" cy="120.8" r="1.6"/><circle cx="461.1" cy="155.5" r="1.6"/><circle cx="508.1" cy="124.4" r="1.6"/><circle cx="488.0" cy="159.6" r="1.6"/><circle cx="427.5" cy="178.5" r="1.6"/><circle cx="447.6" cy="158.8" r="1.6"/><circle cx="548.8" cy="122.1" r="1.6"/><circle cx="487.4" cy="135.8" r="1.6"/><circle cx="517.3" cy="109.4" r="1.6"/><circle cx="424.4" cy="166.5" r="1.6"/><circle cx="498.5" cy="125.6" r="1.6"/><circle cx="540.3" cy="108.8" r="1.6"/><circle cx="537.4" cy="134.6" r="1.6"/><circle cx="397.3" cy="164.5" r="1.6"/><circle cx="472.8" cy="156.1" r="1.6"/><circle cx="465.2" cy="129.3" r="1.6"/><circle cx="529.6" cy="114.8" r="1.6"/><circle cx="426.0" cy="158.8" r="1.6"/><circle cx="454.2" cy="168.7" r="1.6"/><circle cx="527.4" cy="120.6" r="1.6"/><circle cx="489.8" cy="147.3" r="1.6"/><circle cx="473.1" cy="131.7" r="1.6"/><circle cx="559.7" cy="116.8" r="1.6"/><circle cx="457.1" cy="159.9" r="1.6"/><circle cx="419.5" cy="147.4" r="1.6"/><circle cx="475.9" cy="130.4" r="1.6"/><circle cx="441.9" cy="162.2" r="1.6"/><circle cx="417.0" cy="144.7" r="1.6"/><circle cx="506.9" cy="134.2" r="1.6"/><circle cx="566.8" cy="120.9" r="1.6"/><circle cx="507.5" cy="127.7" r="1.6"/><circle cx="498.3" cy="144.0" r="1.6"/><circle cx="466.3" cy="151.1" r="1.6"/><circle cx="508.5" cy="131.6" r="1.6"/><circle cx="529.1" cy="99.1" r="1.6"/><circle cx="494.6" cy="112.2" r="1.6"/><circle cx="533.8" cy="123.8" r="1.6"/><circle cx="484.4" cy="114.3" r="1.6"/><circle cx="436.4" cy="156.1" r="1.6"/><circle cx="502.2" cy="125.9" r="1.6"/><circle cx="483.1" cy="125.4" r="1.6"/><circle cx="441.5" cy="149.3" r="1.6"/><circle cx="498.4" cy="97.3" r="1.6"/><circle cx="519.6" cy="121.6" r="1.6"/><circle cx="438.3" cy="172.5" r="1.6"/><circle cx="488.6" cy="117.2" r="1.6"/><circle cx="523.2" cy="129.9" r="1.6"/><circle cx="473.2" cy="146.6" r="1.6"/><circle cx="460.9" cy="190.6" r="1.6"/><circle cx="455.7" cy="133.7" r="1.6"/><circle cx="472.6" cy="130.2" r="1.6"/><circle cx="513.6" cy="115.6" r="1.6"/><circle cx="499.3" cy="118.1" r="1.6"/><circle cx="441.9" cy="128.6" r="1.6"/><circle cx="521.5" cy="162.2" r="1.6"/><circle cx="536.0" cy="105.4" r="1.6"/><circle cx="449.5" cy="161.7" r="1.6"/><circle cx="471.0" cy="148.1" r="1.6"/><circle cx="434.6" cy="140.6" r="1.6"/><circle cx="543.6" cy="110.6" r="1.6"/><circle cx="542.7" cy="136.4" r="1.6"/><circle cx="413.3" cy="157.6" r="1.6"/><circle cx="465.3" cy="147.6" r="1.6"/><circle cx="447.0" cy="163.7" r="1.6"/><circle cx="488.2" cy="130.2" r="1.6"/><circle cx="549.0" cy="120.4" r="1.6"/><circle cx="410.2" cy="187.0" r="1.6"/><circle cx="435.5" cy="172.2" r="1.6"/><circle cx="483.1" cy="112.4" r="1.6"/><circle cx="487.0" cy="159.3" r="1.6"/><circle cx="522.1" cy="121.0" r="1.6"/><circle cx="481.7" cy="130.0" r="1.6"/><circle cx="448.2" cy="141.8" r="1.6"/><circle cx="452.0" cy="167.8" r="1.6"/><circle cx="582.2" cy="124.0" r="1.6"/><circle cx="520.1" cy="122.9" r="1.6"/><circle cx="451.4" cy="138.2" r="1.6"/><circle cx="518.8" cy="134.9" r="1.6"/><circle cx="452.5" cy="166.8" r="1.6"/><circle cx="522.7" cy="109.2" r="1.6"/><circle cx="402.5" cy="150.0" r="1.6"/><circle cx="538.1" cy="113.0" r="1.6"/><circle cx="448.2" cy="160.2" r="1.6"/><circle cx="476.5" cy="134.9" r="1.6"/><circle cx="507.9" cy="127.8" r="1.6"/><circle cx="475.7" cy="128.8" r="1.6"/><circle cx="449.1" cy="169.3" r="1.6"/><circle cx="434.9" cy="154.3" r="1.6"/><circle cx="466.8" cy="146.8" r="1.6"/><circle cx="427.3" cy="175.0" r="1.6"/><circle cx="456.8" cy="144.9" r="1.6"/><circle cx="432.6" cy="156.4" r="1.6"/><circle cx="484.6" cy="144.0" r="1.6"/><circle cx="461.9" cy="140.3" r="1.6"/><circle cx="503.2" cy="152.0" r="1.6"/><circle cx="467.8" cy="144.8" r="1.6"/><circle cx="419.5" cy="154.7" r="1.6"/><circle cx="461.9" cy="142.0" r="1.6"/><circle cx="524.2" cy="107.6" r="1.6"/><circle cx="461.0" cy="164.2" r="1.6"/><circle cx="480.8" cy="161.5" r="1.6"/><circle cx="517.4" cy="122.4" r="1.6"/><circle cx="478.5" cy="133.4" r="1.6"/><circle cx="540.4" cy="86.3" r="1.6"/><circle cx="540.1" cy="108.6" r="1.6"/><circle cx="467.8" cy="156.9" r="1.6"/><circle cx="516.4" cy="114.4" r="1.6"/><circle cx="455.8" cy="160.9" r="1.6"/><circle cx="441.7" cy="175.5" r="1.6"/><circle cx="478.9" cy="101.6" r="1.6"/><circle cx="498.2" cy="128.2" r="1.6"/><circle cx="563.5" cy="105.3" r="1.6"/><circle cx="441.1" cy="145.5" r="1.6"/><circle cx="507.3" cy="103.0" r="1.6"/><circle cx="492.6" cy="130.8" r="1.6"/><circle cx="448.4" cy="133.2" r="1.6"/><circle cx="564.7" cy="131.1" r="1.6"/><circle cx="502.6" cy="151.8" r="1.6"/><circle cx="439.3" cy="133.4" r="1.6"/><circle cx="539.9" cy="96.0" r="1.6"/><circle cx="450.5" cy="142.8" r="1.6"/><circle cx="432.1" cy="153.7" r="1.6"/><circle cx="455.8" cy="153.7" r="1.6"/><circle cx="569.5" cy="127.0" r="1.6"/><circle cx="422.1" cy="137.5" r="1.6"/><circle cx="540.7" cy="107.8" r="1.6"/><circle cx="512.7" cy="120.2" r="1.6"/><circle cx="418.4" cy="155.8" r="1.6"/><circle cx="505.6" cy="114.8" r="1.6"/><circle cx="474.3" cy="134.2" r="1.6"/><circle cx="511.8" cy="117.0" r="1.6"/><circle cx="516.2" cy="143.6" r="1.6"/><circle cx="501.4" cy="124.3" r="1.6"/><circle cx="615.9" cy="93.3" r="1.6"/><circle cx="450.4" cy="158.0" r="1.6"/><circle cx="532.9" cy="122.2" r="1.6"/><circle cx="489.6" cy="122.9" r="1.6"/><circle cx="518.9" cy="111.3" r="1.6"/><circle cx="535.5" cy="110.1" r="1.6"/><circle cx="586.0" cy="143.8" r="1.6"/><circle cx="452.8" cy="142.1" r="1.6"/><circle cx="492.4" cy="152.5" r="1.6"/><circle cx="555.9" cy="126.5" r="1.6"/><circle cx="562.5" cy="107.5" r="1.6"/><circle cx="455.8" cy="152.8" r="1.6"/><circle cx="556.0" cy="102.5" r="1.6"/><circle cx="482.8" cy="98.8" r="1.6"/><circle cx="473.9" cy="130.3" r="1.6"/><circle cx="532.8" cy="109.7" r="1.6"/><circle cx="486.7" cy="150.3" r="1.6"/><circle cx="480.1" cy="149.0" r="1.6"/><circle cx="489.9" cy="151.6" r="1.6"/><circle cx="489.0" cy="144.2" r="1.6"/><circle cx="437.5" cy="171.2" r="1.6"/><circle cx="427.5" cy="168.3" r="1.6"/><circle cx="533.4" cy="123.2" r="1.6"/><circle cx="506.1" cy="144.8" r="1.6"/><circle cx="500.5" cy="153.0" r="1.6"/><circle cx="532.8" cy="140.4" r="1.6"/><circle cx="471.2" cy="136.1" r="1.6"/><circle cx="458.8" cy="146.5" r="1.6"/><circle cx="453.3" cy="134.2" r="1.6"/><circle cx="469.6" cy="128.0" r="1.6"/><circle cx="527.9" cy="127.1" r="1.6"/><circle cx="477.2" cy="130.7" r="1.6"/><circle cx="463.3" cy="166.9" r="1.6"/><circle cx="499.6" cy="98.8" r="1.6"/><circle cx="449.8" cy="133.0" r="1.6"/><circle cx="437.8" cy="183.4" r="1.6"/><circle cx="497.3" cy="150.4" r="1.6"/><circle cx="514.9" cy="121.2" r="1.6"/><circle cx="458.7" cy="174.9" r="1.6"/><circle cx="513.8" cy="138.7" r="1.6"/><circle cx="414.4" cy="151.6" r="1.6"/><circle cx="481.9" cy="137.8" r="1.6"/><circle cx="513.5" cy="134.6" r="1.6"/><circle cx="451.7" cy="135.9" r="1.6"/><circle cx="457.7" cy="163.0" r="1.6"/><circle cx="510.3" cy="124.3" r="1.6"/><circle cx="495.2" cy="141.4" r="1.6"/><circle cx="450.0" cy="163.0" r="1.6"/><circle cx="510.6" cy="121.6" r="1.6"/><circle cx="412.8" cy="177.7" r="1.6"/><circle cx="568.1" cy="88.6" r="1.6"/><circle cx="442.3" cy="162.0" r="1.6"/><circle cx="466.0" cy="115.4" r="1.6"/><circle cx="437.1" cy="171.4" r="1.6"/><circle cx="584.6" cy="163.4" r="1.6"/><circle cx="456.5" cy="165.8" r="1.6"/><circle cx="499.3" cy="152.3" r="1.6"/><circle cx="580.2" cy="116.5" r="1.6"/><circle cx="574.6" cy="115.7" r="1.6"/><circle cx="428.3" cy="190.0" r="1.6"/><circle cx="479.9" cy="122.2" r="1.6"/><circle cx="507.6" cy="141.3" r="1.6"/><circle cx="503.4" cy="129.1" r="1.6"/><circle cx="457.4" cy="142.2" r="1.6"/><circle cx="458.8" cy="138.6" r="1.6"/><circle cx="409.1" cy="190.7" r="1.6"/><circle cx="417.0" cy="138.0" r="1.6"/><circle cx="484.4" cy="129.7" r="1.6"/><circle cx="429.5" cy="164.2" r="1.6"/><circle cx="436.9" cy="170.4" r="1.6"/><circle cx="468.4" cy="168.8" r="1.6"/><circle cx="412.2" cy="183.3" r="1.6"/><circle cx="425.1" cy="151.3" r="1.6"/><circle cx="551.7" cy="118.6" r="1.6"/><circle cx="489.8" cy="152.7" r="1.6"/><circle cx="471.8" cy="150.3" r="1.6"/><circle cx="508.0" cy="106.3" r="1.6"/><circle cx="409.4" cy="169.0" r="1.6"/><circle cx="457.3" cy="156.5" r="1.6"/><circle cx="566.6" cy="96.5" r="1.6"/><circle cx="539.3" cy="111.1" r="1.6"/><circle cx="494.9" cy="133.5" r="1.6"/><circle cx="439.8" cy="163.2" r="1.6"/><circle cx="466.5" cy="167.4" r="1.6"/><circle cx="426.1" cy="176.2" r="1.6"/><circle cx="451.9" cy="156.9" r="1.6"/><circle cx="429.5" cy="161.2" r="1.6"/><circle cx="435.8" cy="150.5" r="1.6"/><circle cx="499.3" cy="144.7" r="1.6"/><circle cx="448.0" cy="148.0" r="1.6"/><circle cx="449.3" cy="147.5" r="1.6"/><circle cx="550.2" cy="128.8" r="1.6"/><circle cx="458.5" cy="179.2" r="1.6"/><circle cx="461.2" cy="154.1" r="1.6"/><circle cx="448.1" cy="165.3" r="1.6"/><circle cx="521.5" cy="134.1" r="1.6"/><circle cx="510.0" cy="132.7" r="1.6"/><circle cx="488.7" cy="154.8" r="1.6"/><circle cx="503.0" cy="147.6" r="1.6"/><circle cx="449.4" cy="152.2" r="1.6"/><circle cx="459.5" cy="145.3" r="1.6"/><circle cx="508.8" cy="138.7" r="1.6"/><circle cx="569.1" cy="109.5" r="1.6"/><circle cx="520.9" cy="127.9" r="1.6"/><circle cx="504.3" cy="145.8" r="1.6"/><circle cx="485.0" cy="137.2" r="1.6"/><circle cx="400.2" cy="139.2" r="1.6"/><circle cx="537.2" cy="128.7" r="1.6"/><circle cx="430.5" cy="140.5" r="1.6"/><circle cx="450.8" cy="129.9" r="1.6"/><circle cx="494.0" cy="112.4" r="1.6"/><circle cx="533.7" cy="132.1" r="1.6"/><circle cx="525.1" cy="93.4" r="1.6"/><circle cx="475.0" cy="139.7" r="1.6"/><circle cx="447.8" cy="155.1" r="1.6"/><circle cx="418.9" cy="164.6" r="1.6"/><circle cx="549.7" cy="105.3" r="1.6"/><circle cx="573.0" cy="116.8" r="1.6"/><circle cx="462.7" cy="155.6" r="1.6"/><circle cx="535.9" cy="114.8" r="1.6"/><circle cx="489.5" cy="146.8" r="1.6"/><circle cx="466.0" cy="160.1" r="1.6"/><circle cx="491.3" cy="123.8" r="1.6"/><circle cx="394.6" cy="158.3" r="1.6"/><circle cx="488.7" cy="120.3" r="1.6"/><circle cx="448.9" cy="166.7" r="1.6"/><circle cx="500.6" cy="116.1" r="1.6"/><circle cx="480.9" cy="132.2" r="1.6"/><circle cx="541.8" cy="91.1" r="1.6"/><circle cx="535.0" cy="137.9" r="1.6"/><circle cx="456.3" cy="145.0" r="1.6"/><circle cx="458.4" cy="151.5" r="1.6"/><circle cx="558.0" cy="138.2" r="1.6"/><circle cx="488.3" cy="147.1" r="1.6"/><circle cx="439.6" cy="137.7" r="1.6"/><circle cx="421.7" cy="167.3" r="1.6"/><circle cx="582.5" cy="130.0" r="1.6"/><circle cx="500.7" cy="119.2" r="1.6"/><circle cx="425.5" cy="144.6" r="1.6"/><circle cx="482.2" cy="124.3" r="1.6"/><circle cx="484.8" cy="149.5" r="1.6"/><circle cx="481.2" cy="140.0" r="1.6"/><circle cx="567.3" cy="101.3" r="1.6"/><circle cx="574.4" cy="127.5" r="1.6"/><circle cx="436.3" cy="166.6" r="1.6"/><circle cx="441.5" cy="141.4" r="1.6"/><circle cx="486.7" cy="114.1" r="1.6"/><circle cx="515.8" cy="143.5" r="1.6"/><circle cx="513.2" cy="165.7" r="1.6"/><circle cx="524.4" cy="144.7" r="1.6"/></g><g clip-path="url(#c2)"><line x1="367" y1="175.3" x2="639" y2="92.5" stroke="#ff0000" stroke-width="5.2"/></g><g clip-path="url(#c3)"><polygon points="711,143.0 983,109.9 983,148.70000000000002 711,181.8" fill="#b3b3ff" stroke="#9d9dff" stroke-width="1"/></g><g clip-path="url(#c3)" fill="#0000ff"><circle cx="757.1" cy="76.4" r="2.3"/><circle cx="755.2" cy="94.4" r="2.3"/><circle cx="906.7" cy="88.3" r="2.3"/><circle cx="936.0" cy="86.6" r="2.3"/><circle cx="827.7" cy="122.3" r="2.3"/><circle cx="851.7" cy="124.8" r="2.3"/><circle cx="873.3" cy="118.6" r="2.3"/><circle cx="884.8" cy="118.9" r="2.3"/><circle cx="909.3" cy="120.1" r="2.3"/><circle cx="967.7" cy="118.0" r="2.3"/><circle cx="865.5" cy="129.0" r="2.3"/><circle cx="894.8" cy="128.6" r="2.3"/><circle cx="940.1" cy="127.1" r="2.3"/><circle cx="949.6" cy="126.7" r="2.3"/><circle cx="958.1" cy="126.5" r="2.3"/><circle cx="728.0" cy="136.7" r="2.3"/><circle cx="742.0" cy="139.4" r="2.3"/><circle cx="749.7" cy="136.7" r="2.3"/><circle cx="753.5" cy="139.4" r="2.3"/><circle cx="775.8" cy="135.6" r="2.3"/><circle cx="777.5" cy="135.0" r="2.3"/><circle cx="791.3" cy="136.0" r="2.3"/><circle cx="814.5" cy="139.9" r="2.3"/><circle cx="836.4" cy="137.1" r="2.3"/><circle cx="840.2" cy="137.3" r="2.3"/><circle cx="842.1" cy="139.4" r="2.3"/><circle cx="735.9" cy="152.6" r="2.3"/><circle cx="730.1" cy="163.2" r="2.3"/><circle cx="756.3" cy="159.4" r="2.3"/><circle cx="717.4" cy="173.9" r="2.3"/><circle cx="725.4" cy="172.6" r="2.3"/><circle cx="734.0" cy="180.7" r="2.3"/><circle cx="727.0" cy="184.1" r="2.3"/><circle cx="753.5" cy="177.1" r="2.3"/><circle cx="771.1" cy="167.1" r="2.3"/><circle cx="769.4" cy="186.6" r="2.3"/><circle cx="788.6" cy="152.2" r="2.3"/><circle cx="797.7" cy="159.4" r="2.3"/><circle cx="803.6" cy="163.2" r="2.3"/><circle cx="808.7" cy="162.6" r="2.3"/><circle cx="813.4" cy="156.9" r="2.3"/><circle cx="825.7" cy="173.4" r="2.3"/><circle cx="833.0" cy="170.3" r="2.3"/><circle cx="831.7" cy="153.0" r="2.3"/><circle cx="851.7" cy="148.8" r="2.3"/><circle cx="854.9" cy="148.8" r="2.3"/><circle cx="859.1" cy="139.9" r="2.3"/><circle cx="856.1" cy="143.7" r="2.3"/><circle cx="865.5" cy="145.6" r="2.3"/><circle cx="869.5" cy="153.0" r="2.3"/><circle cx="858.9" cy="173.0" r="2.3"/><circle cx="884.2" cy="145.0" r="2.3"/><circle cx="891.6" cy="140.9" r="2.3"/><circle cx="887.8" cy="158.4" r="2.3"/><circle cx="906.9" cy="140.9" r="2.3"/><circle cx="925.0" cy="155.4" r="2.3"/><circle cx="937.9" cy="161.8" r="2.3"/><circle cx="969.4" cy="150.1" r="2.3"/><circle cx="979.2" cy="139.9" r="2.3"/><circle cx="807.3" cy="253.2" r="2.3"/></g><g clip-path="url(#c3)"><line x1="711" y1="160.3" x2="983" y2="127.2" stroke="#0000ff" stroke-width="5.2"/></g><g clip-path="url(#c4)"><polygon points="999,173.1 1271,80 1271,106 999,199.1" fill="#b3b3ff" stroke="#9d9dff" stroke-width="1"/></g><g clip-path="url(#c4)" fill="#0000ff"><circle cx="1197.9" cy="76.4" r="2.3"/><circle cx="1208.7" cy="88.3" r="2.3"/><circle cx="1216.4" cy="86.6" r="2.3"/><circle cx="1149.2" cy="94.4" r="2.3"/><circle cx="1149.2" cy="118.6" r="2.3"/><circle cx="1166.9" cy="120.1" r="2.3"/><circle cx="1167.9" cy="118.6" r="2.3"/><circle cx="1104.6" cy="124.8" r="2.3"/><circle cx="1125.0" cy="127.1" r="2.3"/><circle cx="1215.7" cy="118.0" r="2.3"/><circle cx="1256.1" cy="122.3" r="2.3"/><circle cx="1179.2" cy="128.4" r="2.3"/><circle cx="1182.2" cy="126.5" r="2.3"/><circle cx="1190.2" cy="126.5" r="2.3"/><circle cx="1221.7" cy="129.1" r="2.3"/><circle cx="1086.8" cy="136.0" r="2.3"/><circle cx="1085.7" cy="139.9" r="2.3"/><circle cx="1098.9" cy="139.0" r="2.3"/><circle cx="1101.0" cy="136.7" r="2.3"/><circle cx="1106.3" cy="139.4" r="2.3"/><circle cx="1119.7" cy="136.7" r="2.3"/><circle cx="1125.0" cy="135.6" r="2.3"/><circle cx="1098.2" cy="144.8" r="2.3"/><circle cx="1108.0" cy="144.1" r="2.3"/><circle cx="1140.3" cy="134.6" r="2.3"/><circle cx="1129.7" cy="140.3" r="2.3"/><circle cx="1132.4" cy="143.7" r="2.3"/><circle cx="1136.5" cy="145.8" r="2.3"/><circle cx="1143.5" cy="140.5" r="2.3"/><circle cx="1153.1" cy="137.3" r="2.3"/><circle cx="1152.0" cy="139.9" r="2.3"/><circle cx="1143.1" cy="148.4" r="2.3"/><circle cx="1145.2" cy="148.8" r="2.3"/><circle cx="1187.5" cy="139.9" r="2.3"/><circle cx="1209.8" cy="150.9" r="2.3"/><circle cx="1197.7" cy="161.8" r="2.3"/><circle cx="1062.3" cy="152.6" r="2.3"/><circle cx="1070.8" cy="152.6" r="2.3"/><circle cx="1073.4" cy="150.1" r="2.3"/><circle cx="1067.4" cy="159.0" r="2.3"/><circle cx="1078.7" cy="156.9" r="2.3"/><circle cx="1084.0" cy="162.8" r="2.3"/><circle cx="1081.9" cy="167.1" r="2.3"/><circle cx="1091.0" cy="152.6" r="2.3"/><circle cx="1090.4" cy="158.4" r="2.3"/><circle cx="1099.9" cy="159.4" r="2.3"/><circle cx="1100.1" cy="163.2" r="2.3"/><circle cx="1109.9" cy="153.0" r="2.3"/><circle cx="1091.0" cy="173.0" r="2.3"/><circle cx="1126.5" cy="173.4" r="2.3"/><circle cx="1030.9" cy="163.2" r="2.3"/><circle cx="1017.3" cy="172.8" r="2.3"/><circle cx="1029.8" cy="173.9" r="2.3"/><circle cx="1053.2" cy="176.6" r="2.3"/><circle cx="1052.1" cy="180.7" r="2.3"/><circle cx="1017.3" cy="184.1" r="2.3"/><circle cx="1045.1" cy="186.6" r="2.3"/><circle cx="1010.7" cy="253.0" r="2.3"/></g><g clip-path="url(#c4)"><line x1="999" y1="186.8" x2="1271" y2="93.5" stroke="#0000ff" stroke-width="5.2"/></g><rect x="79.1" y="9.24" width="271.80" height="273.96" fill="none" stroke="#111" stroke-width="1.15"/><rect x="367.4" y="9.24" width="272.10" height="273.96" fill="none" stroke="#111" stroke-width="1.15"/><rect x="710.5" y="9.24" width="272.10" height="273.96" fill="none" stroke="#111" stroke-width="1.15"/><rect x="999.0" y="9.24" width="272.00" height="273.96" fill="none" stroke="#111" stroke-width="1.15"/><path d="M79.00,283.2v4.5M147.00,283.2v4.5M215.00,283.2v4.5M283.00,283.2v4.5M351.00,283.2v4.5M389.00,283.2v4.5M430.68,283.2v4.5M472.36,283.2v4.5M514.04,283.2v4.5M555.72,283.2v4.5M597.40,283.2v4.5M639.08,283.2v4.5M740.80,283.2v4.5M801.20,283.2v4.5M861.60,283.2v4.5M922.00,283.2v4.5M982.40,283.2v4.5M1026.20,283.2v4.5M1071.50,283.2v4.5M1116.80,283.2v4.5M1162.10,283.2v4.5M1207.40,283.2v4.5M1252.70,283.2v4.5M79.1,24.30h-4.6M367.4,24.30h-4.6M79.1,61.12h-4.6M367.4,61.12h-4.6M79.1,97.95h-4.6M367.4,97.95h-4.6M79.1,134.78h-4.6M367.4,134.78h-4.6M79.1,171.60h-4.6M367.4,171.60h-4.6M79.1,208.43h-4.6M367.4,208.43h-4.6M79.1,245.25h-4.6M367.4,245.25h-4.6M79.1,282.08h-4.6M367.4,282.08h-4.6M710.5,18.50h-4.6M999.0,18.50h-4.6M710.5,62.65h-4.6M999.0,62.65h-4.6M710.5,106.80h-4.6M999.0,106.80h-4.6M710.5,150.95h-4.6M999.0,150.95h-4.6M710.5,195.10h-4.6M999.0,195.10h-4.6M710.5,239.25h-4.6M999.0,239.25h-4.6M710.5,283.40h-4.6M999.0,283.40h-4.6" stroke="#111" stroke-width="1.15" fill="none"/><g font-family='"Liberation Sans", sans-serif' fill="#000"><text x="79.00" y="302.3" font-size="13.4" text-anchor="middle" transform="translate(79.00,0) scale(1.1,1) translate(-79.00,0)" >2</text><text x="147.00" y="302.3" font-size="13.4" text-anchor="middle" transform="translate(147.00,0) scale(1.1,1) translate(-147.00,0)" >4</text><text x="215.00" y="302.3" font-size="13.4" text-anchor="middle" transform="translate(215.00,0) scale(1.1,1) translate(-215.00,0)" >6</text><text x="283.00" y="302.3" font-size="13.4" text-anchor="middle" transform="translate(283.00,0) scale(1.1,1) translate(-283.00,0)" >8</text><text x="351.00" y="302.3" font-size="13.4" text-anchor="middle" transform="translate(351.00,0) scale(1.1,1) translate(-351.00,0)" >10</text><text x="389.00" y="302.3" font-size="13.4" text-anchor="middle" transform="translate(389.00,0) scale(1.1,1) translate(-389.00,0)" >13.0</text><text x="430.70" y="302.3" font-size="13.4" text-anchor="middle" transform="translate(430.70,0) scale(1.1,1) translate(-430.70,0)" >13.2</text><text x="472.40" y="302.3" font-size="13.4" text-anchor="middle" transform="translate(472.40,0) scale(1.1,1) translate(-472.40,0)" >13.4</text><text x="514.00" y="302.3" font-size="13.4" text-anchor="middle" transform="translate(514.00,0) scale(1.1,1) translate(-514.00,0)" >13.6</text><text x="555.70" y="302.3" font-size="13.4" text-anchor="middle" transform="translate(555.70,0) scale(1.1,1) translate(-555.70,0)" >13.8</text><text x="597.40" y="302.3" font-size="13.4" text-anchor="middle" transform="translate(597.40,0) scale(1.1,1) translate(-597.40,0)" >14.0</text><text x="639.10" y="302.3" font-size="13.4" text-anchor="middle" transform="translate(639.10,0) scale(1.1,1) translate(-639.10,0)" >14.2</text><text x="740.80" y="302.3" font-size="13.4" text-anchor="middle" transform="translate(740.80,0) scale(1.1,1) translate(-740.80,0)" >0.8</text><text x="801.20" y="302.3" font-size="13.4" text-anchor="middle" transform="translate(801.20,0) scale(1.1,1) translate(-801.20,0)" >0.9</text><text x="861.60" y="302.3" font-size="13.4" text-anchor="middle" transform="translate(861.60,0) scale(1.1,1) translate(-861.60,0)" >1.0</text><text x="922.00" y="302.3" font-size="13.4" text-anchor="middle" transform="translate(922.00,0) scale(1.1,1) translate(-922.00,0)" >1.1</text><text x="982.40" y="302.3" font-size="13.4" text-anchor="middle" transform="translate(982.40,0) scale(1.1,1) translate(-982.40,0)" >1.2</text><text x="1026.20" y="302.3" font-size="13.4" text-anchor="middle" transform="translate(1026.20,0) scale(1.1,1) translate(-1026.20,0)" >12.75</text><text x="1071.50" y="302.3" font-size="13.4" text-anchor="middle" transform="translate(1071.50,0) scale(1.1,1) translate(-1071.50,0)" >13.00</text><text x="1116.80" y="302.3" font-size="13.4" text-anchor="middle" transform="translate(1116.80,0) scale(1.1,1) translate(-1116.80,0)" >13.25</text><text x="1162.10" y="302.3" font-size="13.4" text-anchor="middle" transform="translate(1162.10,0) scale(1.1,1) translate(-1162.10,0)" >13.50</text><text x="1207.40" y="302.3" font-size="13.4" text-anchor="middle" transform="translate(1207.40,0) scale(1.1,1) translate(-1207.40,0)" >13.75</text><text x="1252.70" y="302.3" font-size="13.4" text-anchor="middle" transform="translate(1252.70,0) scale(1.1,1) translate(-1252.70,0)" >14.00</text><text x="70.00" y="29.3" font-size="13.4" text-anchor="end" transform="translate(70.00,0) scale(1.1,1) translate(-70.00,0)" >10.00</text><text x="70.00" y="66.1" font-size="13.4" text-anchor="end" transform="translate(70.00,0) scale(1.1,1) translate(-70.00,0)" >9.75</text><text x="70.00" y="103.0" font-size="13.4" text-anchor="end" transform="translate(70.00,0) scale(1.1,1) translate(-70.00,0)" >9.50</text><text x="70.00" y="139.8" font-size="13.4" text-anchor="end" transform="translate(70.00,0) scale(1.1,1) translate(-70.00,0)" >9.25</text><text x="70.00" y="176.6" font-size="13.4" text-anchor="end" transform="translate(70.00,0) scale(1.1,1) translate(-70.00,0)" >9.00</text><text x="70.00" y="213.4" font-size="13.4" text-anchor="end" transform="translate(70.00,0) scale(1.1,1) translate(-70.00,0)" >8.75</text><text x="70.00" y="250.3" font-size="13.4" text-anchor="end" transform="translate(70.00,0) scale(1.1,1) translate(-70.00,0)" >8.50</text><text x="70.00" y="287.1" font-size="13.4" text-anchor="end" transform="translate(70.00,0) scale(1.1,1) translate(-70.00,0)" >8.25</text><text x="701.30" y="23.5" font-size="13.4" text-anchor="end" transform="translate(701.30,0) scale(1.05,1) translate(-701.30,0)" >10.5</text><text x="701.30" y="67.7" font-size="13.4" text-anchor="end" transform="translate(701.30,0) scale(1.05,1) translate(-701.30,0)" >10.0</text><text x="701.30" y="111.8" font-size="13.4" text-anchor="end" transform="translate(701.30,0) scale(1.05,1) translate(-701.30,0)" >9.5</text><text x="701.30" y="155.9" font-size="13.4" text-anchor="end" transform="translate(701.30,0) scale(1.05,1) translate(-701.30,0)" >9.0</text><text x="701.30" y="200.1" font-size="13.4" text-anchor="end" transform="translate(701.30,0) scale(1.05,1) translate(-701.30,0)" >8.5</text><text x="701.30" y="244.2" font-size="13.4" text-anchor="end" transform="translate(701.30,0) scale(1.05,1) translate(-701.30,0)" >8.0</text><text x="701.30" y="288.4" font-size="13.4" text-anchor="end" transform="translate(701.30,0) scale(1.05,1) translate(-701.30,0)" >7.5</text><text transform="translate(24.4,146.8) rotate(-90) scale(1.065,1)" x="0" y="0" font-size="18" text-anchor="middle">log<tspan font-style="italic">M</tspan><tspan font-size="12.6" dy="3">BH</tspan></text><text transform="translate(663.5,146.8) rotate(-90) scale(1.065,1)" x="0" y="0" font-size="18" text-anchor="middle">log<tspan font-style="italic">M</tspan><tspan font-size="12.6" dy="3">BH</tspan></text><text x="215.00" y="324.2" font-size="18" text-anchor="middle" transform="translate(215.00,0) scale(1.05,1) translate(-215.00,0)" >n</text><text x="847.00" y="324.2" font-size="18" text-anchor="middle" transform="translate(847.00,0) scale(1.05,1) translate(-847.00,0)" >n</text><text x="504.00" y="324.4" font-size="18" text-anchor="middle" transform="translate(504.00,0) scale(1.095,1) translate(-504.00,0)" >log<tspan font-style="italic">M</tspan><tspan font-size="12.6" dy="3" font-style="italic">h</tspan></text><text x="1135.00" y="324.4" font-size="18" text-anchor="middle" transform="translate(1135.00,0) scale(1.095,1) translate(-1135.00,0)" >log<tspan font-style="italic">M</tspan><tspan font-size="12.6" dy="3" font-style="italic">h</tspan></text><rect x="88.1" y="18.7" width="181.2" height="30.6" rx="4" ry="4" fill="#fff" fill-opacity="0.8" stroke="#d6d6d6" stroke-width="1"/><line x1="93" y1="33.3" x2="133" y2="33.3" stroke="#ff0000" stroke-width="5"/><text x="144.50" y="39.8" font-size="19.5" text-anchor="start" transform="translate(144.50,0) scale(1.02,1) translate(-144.50,0)" >TNG300, <tspan font-style="italic">z</tspan>=0</text><rect x="719.6" y="18.7" width="154.5" height="30.6" rx="4" ry="4" fill="#fff" fill-opacity="0.8" stroke="#d6d6d6" stroke-width="1"/><line x1="724" y1="33.3" x2="764.5" y2="33.3" stroke="#0000ff" stroke-width="5"/><text x="774.00" y="39.8" font-size="19.5" text-anchor="start" transform="translate(774.00,0) scale(1.056,1) translate(-774.00,0)" >S100, <tspan font-style="italic">z</tspan>=0</text><text x="112.70" y="238.8" font-size="19" text-anchor="start" transform="translate(112.70,0) scale(1.066,1) translate(-112.70,0)" >log<tspan font-style="italic">M</tspan><tspan font-size="13.3" dy="3" font-style="italic">BH</tspan><tspan dy="-3"> = 0.014(4)<tspan font-style="italic">n</tspan></tspan></text><text x="181.00" y="259.1" font-size="19" text-anchor="start" transform="translate(181.00,0) scale(1.1,1) translate(-181.00,0)" >+ 9.18(15)</text><text x="392.90" y="239" font-size="19" text-anchor="start" transform="translate(392.90,0) scale(1.057,1) translate(-392.90,0)" >log<tspan font-style="italic">M</tspan><tspan font-size="13.3" dy="3" font-style="italic">BH</tspan><tspan dy="-3"> = 0.436(4)log<tspan font-style="italic">M</tspan><tspan font-size="13.3" dy="3" font-style="italic">h</tspan><tspan dy="-3"></tspan></tspan></text><text x="461.00" y="260" font-size="19" text-anchor="start" transform="translate(461.00,0) scale(1.094,1) translate(-461.00,0)" >+ 3.35(15)</text><text x="728.60" y="239.4" font-size="19" text-anchor="start" transform="translate(728.60,0) scale(1.038,1) translate(-728.60,0)" >log<tspan font-style="italic">M</tspan><tspan font-size="13.3" dy="3" font-style="italic">BH</tspan><tspan dy="-3"> = 0.8(3)<tspan font-style="italic">n</tspan> + 8.3(3)</tspan></text><text x="1013.00" y="240.3" font-size="19" text-anchor="start" transform="translate(1013.00,0) scale(1.057,1) translate(-1013.00,0)" >log<tspan font-style="italic">M</tspan><tspan font-size="13.3" dy="3" font-style="italic">BH</tspan><tspan dy="-3"> = 0.7(3)log<tspan font-style="italic">M</tspan><tspan font-size="13.3" dy="3" font-style="italic">h</tspan><tspan dy="-3"> -0.4(3)</tspan></tspan></text></g></svg></body></html>
